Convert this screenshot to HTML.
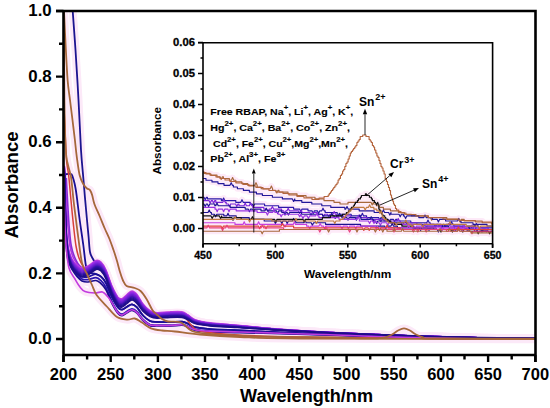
<!DOCTYPE html>
<html><head><meta charset="utf-8"><style>
html,body{margin:0;padding:0;background:#fff;width:550px;height:408px;overflow:hidden}
svg{display:block}
text{fill:#000}
</style></head><body>
<svg width="550" height="408" viewBox="0 0 550 408">
<rect width="550" height="408" fill="#fff"/>
<clipPath id="mc"><rect x="63.5" y="11" width="472" height="344"/></clipPath>
<g clip-path="url(#mc)"><path d="M64.5 168.0 C64.6 174.2 65.0 194.3 65.3 205.0 C65.6 215.7 65.8 224.5 66.3 232.0 C66.8 239.5 67.3 245.2 68.3 250.0 C69.2 254.8 70.5 258.2 72.0 261.0 C73.5 263.8 75.3 265.5 77.0 267.0 C78.7 268.5 80.2 269.8 82.0 270.0 C83.8 270.2 85.7 269.2 88.0 268.0 C90.3 266.8 93.8 263.2 96.0 262.5 C98.2 261.8 99.3 262.4 101.0 264.0 C102.7 265.6 104.2 268.0 106.0 272.0 C107.8 276.0 110.0 283.5 112.0 288.0 C114.0 292.5 116.3 296.9 118.0 299.0 C119.7 301.1 120.5 300.9 122.0 300.5 C123.5 300.1 125.3 297.8 127.0 296.5 C128.7 295.2 130.3 293.0 132.0 293.0 C133.7 293.0 135.2 294.4 137.0 296.5 C138.8 298.6 140.8 302.9 143.0 305.5 C145.2 308.1 147.7 310.6 150.0 312.0 C152.3 313.4 153.7 313.8 157.0 314.0 C160.3 314.2 165.8 313.2 170.0 313.0 C174.2 312.8 179.0 312.5 182.0 313.0 C185.0 313.5 185.8 314.8 188.0 316.0 C190.2 317.2 191.3 319.2 195.0 320.5 C198.7 321.8 202.5 322.6 210.0 323.5 C217.5 324.4 228.3 325.0 240.0 326.0 C251.7 327.0 265.0 328.4 280.0 329.5 C295.0 330.6 310.0 331.5 330.0 332.5 C350.0 333.5 376.7 334.7 400.0 335.5 C423.3 336.3 447.5 337.0 470.0 337.5 C492.5 338.0 524.2 338.2 535.0 338.3" fill="none" stroke="#fce9f8" stroke-width="8" stroke-linejoin="round" stroke-linecap="round"/><path d="M64.0 11.0 C64.3 16.7 65.0 33.5 65.6 45.0 C66.2 56.5 66.9 70.8 67.6 80.0 C68.3 89.2 69.2 93.3 70.0 100.0 C70.8 106.7 71.7 113.3 72.5 120.0 C73.3 126.7 74.2 133.8 74.9 140.0 C75.6 146.2 76.0 151.2 76.8 157.0 C77.6 162.8 78.5 170.4 79.6 175.0 C80.7 179.6 82.2 182.1 83.4 184.3 C84.6 186.6 85.9 187.5 87.0 188.5 C88.1 189.5 89.1 189.0 90.0 190.1 C90.9 191.2 91.5 193.0 92.2 195.3 C92.9 197.6 93.2 200.6 94.4 204.0 C95.6 207.4 97.8 211.8 99.6 216.0 C101.4 220.2 103.3 225.2 105.0 229.0 C106.7 232.8 108.1 235.5 109.5 239.0 C110.9 242.5 112.2 246.3 113.5 250.0 C114.8 253.7 115.9 257.3 117.0 261.0 C118.1 264.7 119.0 268.8 120.0 272.0 C121.0 275.2 121.9 278.2 123.0 280.5 C124.1 282.8 124.6 284.6 126.6 285.9 C128.5 287.1 132.4 287.1 134.7 288.0 C137.0 288.9 138.6 289.2 140.6 291.0 C142.6 292.8 144.5 295.8 146.5 299.0 C148.5 302.2 150.7 307.4 152.4 310.0 C154.1 312.6 155.2 313.0 156.8 314.5 C158.4 316.0 160.1 317.8 162.0 319.0 C163.9 320.2 164.8 320.9 168.0 321.5 C171.2 322.1 177.0 320.9 181.0 322.5 C185.0 324.1 187.2 329.1 192.0 331.0 C196.8 332.9 198.7 333.1 210.0 334.0 C221.3 334.9 240.0 335.9 260.0 336.5 C280.0 337.1 311.0 337.2 330.0 337.5 C349.0 337.8 364.8 338.4 374.0 338.4 C383.2 338.4 382.0 337.9 385.0 337.3 C388.0 336.7 389.8 335.6 392.0 334.5 C394.2 333.4 396.0 331.5 398.0 330.5 C400.0 329.5 402.0 328.4 404.0 328.4 C406.0 328.4 408.0 329.5 410.0 330.5 C412.0 331.5 413.8 333.4 416.0 334.5 C418.2 335.6 420.2 336.6 423.0 337.3 C425.8 338.0 414.3 338.3 433.0 338.5 C451.7 338.7 518.0 338.6 535.0 338.6" fill="none" stroke="#fce9f8" stroke-width="8" stroke-linejoin="round" stroke-linecap="round"/><path d="M72.7 11.0 C73.2 17.5 74.5 35.2 75.5 50.0 C76.5 64.8 77.6 83.3 78.5 100.0 C79.4 116.7 80.2 136.8 81.0 150.0 C81.8 163.2 82.8 171.2 83.4 179.0 C84.1 186.8 84.3 190.0 84.9 196.8 C85.5 203.6 86.4 213.3 87.0 220.0 C87.6 226.7 88.1 231.7 88.6 237.0 C89.1 242.3 89.3 248.3 90.0 252.0 C90.7 255.7 92.0 257.1 93.0 259.0 C94.0 260.9 94.7 262.5 96.0 263.5 C97.3 264.5 99.3 263.4 101.0 265.0 C102.7 266.6 104.2 269.0 106.0 273.0 C107.8 277.0 110.0 284.5 112.0 289.0 C114.0 293.5 116.3 297.9 118.0 299.9 C119.7 302.0 120.5 301.8 122.0 301.4 C123.5 301.0 125.3 298.7 127.0 297.5 C128.7 296.3 130.3 294.0 132.0 294.0 C133.7 294.0 135.2 295.4 137.0 297.5 C138.8 299.5 140.8 303.7 143.0 306.3 C145.2 308.8 147.7 311.2 150.0 312.6 C152.3 314.0 153.7 314.4 157.0 314.6 C160.3 314.7 165.8 313.7 170.0 313.6 C174.2 313.4 179.0 313.1 182.0 313.6 C185.0 314.1 185.8 315.3 188.0 316.5 C190.2 317.7 191.3 319.7 195.0 320.9 C198.7 322.1 202.5 322.9 210.0 323.8 C217.5 324.7 228.3 325.3 240.0 326.2 C251.7 327.2 265.0 328.6 280.0 329.7 C295.0 330.7 310.0 331.6 330.0 332.6 C350.0 333.6 376.7 334.7 400.0 335.5 C423.3 336.3 447.5 337.0 470.0 337.5 C492.5 338.0 524.2 338.2 535.0 338.3" fill="none" stroke="#fce9f8" stroke-width="8" stroke-linejoin="round" stroke-linecap="round"/><path d="M63.5 174.4 C64.2 174.3 66.7 174.0 68.0 174.0 C69.3 174.0 70.6 173.3 71.6 174.4 C72.6 175.5 73.1 178.3 73.8 180.6 C74.5 182.9 75.0 185.3 75.5 188.0 C76.0 190.7 76.1 191.5 76.8 196.8 C77.5 202.1 78.6 212.0 79.7 220.0 C80.8 228.0 82.3 237.5 83.3 245.0 C84.3 252.5 85.0 260.5 85.8 265.0 C86.6 269.5 86.3 270.5 88.0 272.0 C89.7 273.5 93.8 273.3 96.0 274.1 C98.2 274.9 99.3 275.2 101.0 276.7 C102.7 278.2 104.2 279.7 106.0 283.1 C107.8 286.6 110.0 293.2 112.0 297.2 C114.0 301.3 116.3 305.3 118.0 307.4 C119.7 309.5 120.5 309.8 122.0 309.7 C123.5 309.6 125.3 307.7 127.0 306.8 C128.7 305.9 130.3 304.2 132.0 304.3 C133.7 304.4 135.2 305.5 137.0 307.4 C138.8 309.3 140.8 313.3 143.0 315.5 C145.2 317.8 147.7 319.9 150.0 321.0 C152.3 322.1 153.7 321.8 157.0 322.0 C160.3 322.2 165.8 322.2 170.0 322.2 C174.2 322.1 179.0 321.3 182.0 321.6 C185.0 321.9 185.8 322.8 188.0 323.7 C190.2 324.7 191.3 326.3 195.0 327.2 C198.7 328.1 202.5 328.6 210.0 329.1 C217.5 329.6 228.3 329.9 240.0 330.4 C251.7 330.9 265.0 331.6 280.0 332.3 C295.0 333.0 310.0 333.5 330.0 334.3 C350.0 335.1 376.7 336.2 400.0 336.9 C423.3 337.5 447.5 338.1 470.0 338.4 C492.5 338.7 524.2 338.7 535.0 338.8" fill="none" stroke="#fce9f8" stroke-width="8" stroke-linejoin="round" stroke-linecap="round"/><path d="M63.5 95.0 C63.8 100.8 64.5 119.2 65.0 130.0 C65.5 140.8 65.9 152.5 66.5 160.0 C67.1 167.5 67.9 169.0 68.6 174.8 C69.3 180.6 69.9 188.5 70.5 195.0 C71.1 201.5 71.7 208.2 72.3 214.0 C72.9 219.8 73.4 224.7 74.0 230.0 C74.6 235.3 75.2 241.3 76.0 246.0 C76.8 250.7 77.8 254.7 79.0 258.0 C80.2 261.3 81.5 263.8 83.0 266.0 C84.5 268.2 85.8 271.1 88.0 271.0 C90.2 270.9 93.8 266.2 96.0 265.5 C98.2 264.8 99.3 265.4 101.0 267.0 C102.7 268.6 104.2 271.0 106.0 275.0 C107.8 279.0 110.0 286.5 112.0 291.0 C114.0 295.5 116.3 299.7 118.0 301.8 C119.7 303.8 120.5 303.5 122.0 303.2 C123.5 302.8 125.3 300.7 127.0 299.5 C128.7 298.3 130.3 296.0 132.0 296.0 C133.7 296.0 135.2 297.5 137.0 299.5 C138.8 301.4 140.8 305.4 143.0 307.8 C145.2 310.2 147.7 312.5 150.0 313.8 C152.3 315.1 153.7 315.5 157.0 315.6 C160.3 315.8 165.8 314.9 170.0 314.7 C174.2 314.6 178.3 312.8 182.0 314.7 C185.7 316.6 189.0 323.3 192.0 326.0 C195.0 328.7 193.7 329.6 200.0 331.0 C206.3 332.4 213.3 333.5 230.0 334.5 C246.7 335.5 271.7 336.4 300.0 337.0 C328.3 337.6 360.8 338.0 400.0 338.3 C439.2 338.6 512.5 338.7 535.0 338.8" fill="none" stroke="#fce9f8" stroke-width="8" stroke-linejoin="round" stroke-linecap="round"/><path d="M63.5 165.0 C63.7 172.5 64.1 196.7 64.5 210.0 C64.9 223.3 65.2 235.3 66.0 245.0 C66.8 254.7 67.5 262.3 69.0 268.0 C70.5 273.7 73.2 275.8 75.0 279.0 C76.8 282.2 78.3 284.9 80.0 287.0 C81.7 289.1 82.5 290.5 85.0 291.5 C87.5 292.5 92.1 292.9 95.0 293.0 C97.9 293.1 100.3 291.3 102.5 292.0 C104.7 292.7 106.4 295.2 108.0 297.0 C109.6 298.8 110.3 300.3 112.0 302.9 C113.7 305.5 116.3 310.8 118.0 312.8 C119.7 314.8 120.5 315.2 122.0 315.1 C123.5 314.9 125.3 313.1 127.0 312.2 C128.7 311.3 130.3 309.7 132.0 309.8 C133.7 309.9 135.2 310.9 137.0 312.6 C138.8 314.3 140.8 318.0 143.0 320.0 C145.2 322.1 147.7 324.0 150.0 324.9 C152.3 325.8 153.7 325.3 157.0 325.4 C160.3 325.5 165.8 325.7 170.0 325.6 C174.2 325.5 179.0 324.6 182.0 324.8 C185.0 324.9 185.8 325.8 188.0 326.6 C190.2 327.4 191.3 328.9 195.0 329.7 C198.7 330.4 202.5 330.8 210.0 331.1 C217.5 331.5 228.3 331.6 240.0 332.0 C251.7 332.3 265.0 332.7 280.0 333.2 C295.0 333.7 310.0 334.1 330.0 334.8 C350.0 335.5 376.7 336.6 400.0 337.2 C423.3 337.9 447.5 338.4 470.0 338.7 C492.5 339.0 524.2 338.9 535.0 339.0" fill="none" stroke="#fce9f8" stroke-width="8" stroke-linejoin="round" stroke-linecap="round"/><path d="M63.8 11.0 C63.9 25.8 64.1 76.8 64.4 100.0 C64.7 123.2 65.2 139.2 65.8 150.0 C66.4 160.8 67.1 160.5 68.0 165.0 C68.9 169.5 70.1 171.2 71.0 177.0 C71.9 182.8 72.7 192.8 73.5 200.0 C74.3 207.2 75.2 213.6 76.0 220.0 C76.8 226.4 77.4 231.3 78.4 238.5 C79.4 245.7 80.6 257.1 82.0 263.0 C83.4 268.9 85.3 270.3 87.0 274.0 C88.7 277.7 90.4 281.5 92.0 285.0 C93.6 288.5 94.1 291.4 96.6 295.0 C99.1 298.6 103.4 302.8 106.8 306.5 C110.2 310.2 113.6 314.8 117.0 317.0 C120.4 319.2 124.5 319.4 127.4 319.7 C130.3 319.9 132.3 318.0 134.7 318.5 C137.1 319.0 139.3 321.0 142.0 322.6 C144.7 324.2 147.6 327.0 150.9 328.3 C154.2 329.6 158.0 330.0 162.0 330.5 C166.0 331.0 168.7 330.8 175.0 331.5 C181.3 332.2 189.2 333.6 200.0 334.5 C210.8 335.4 223.3 336.3 240.0 337.0 C256.7 337.7 250.8 338.1 300.0 338.5 C349.2 338.9 495.8 339.1 535.0 339.2" fill="none" stroke="#fce9f8" stroke-width="8" stroke-linejoin="round" stroke-linecap="round"/><path d="M65.3 175.0 C65.5 179.2 65.9 191.7 66.3 200.0 C66.7 208.3 67.2 217.5 67.8 225.0 C68.4 232.5 68.9 239.7 69.8 245.0 C70.7 250.3 71.6 253.7 73.0 257.0 C74.4 260.3 76.5 262.8 78.0 265.0 C79.5 267.2 80.3 269.5 82.0 270.0 C83.7 270.5 85.7 269.2 88.0 268.0 C90.3 266.8 93.8 263.2 96.0 262.5 C98.2 261.8 99.3 262.4 101.0 264.0 C102.7 265.6 104.2 268.0 106.0 272.0 C107.8 276.0 110.0 283.5 112.0 288.0 C114.0 292.5 116.3 296.9 118.0 299.0 C119.7 301.1 120.5 300.9 122.0 300.5 C123.5 300.1 125.3 297.8 127.0 296.5 C128.7 295.2 130.3 293.0 132.0 293.0 C133.7 293.0 135.2 294.4 137.0 296.5 C138.8 298.6 140.8 302.9 143.0 305.5 C145.2 308.1 147.7 310.6 150.0 312.0 C152.3 313.4 153.7 313.8 157.0 314.0 C160.3 314.2 165.8 313.2 170.0 313.0 C174.2 312.8 179.0 312.5 182.0 313.0 C185.0 313.5 185.8 314.8 188.0 316.0 C190.2 317.2 191.3 319.2 195.0 320.5 C198.7 321.8 202.5 322.6 210.0 323.5 C217.5 324.4 228.3 325.0 240.0 326.0 C251.7 327.0 265.0 328.4 280.0 329.5 C295.0 330.6 310.0 331.5 330.0 332.5 C350.0 333.5 376.7 334.7 400.0 335.5 C423.3 336.3 447.5 337.0 470.0 337.5 C492.5 338.0 524.2 338.2 535.0 338.3" fill="none" stroke="#fce9f8" stroke-width="8" stroke-linejoin="round" stroke-linecap="round"/><path d="M66.3 178.0 C66.5 182.5 67.3 196.7 67.8 205.0 C68.3 213.3 68.7 221.2 69.3 228.0 C69.9 234.8 70.3 241.0 71.3 246.0 C72.2 251.0 73.5 254.7 75.0 258.0 C76.5 261.3 77.8 264.0 80.0 266.0 C82.2 268.0 85.3 270.2 88.0 270.0 C90.7 269.8 93.8 265.2 96.0 264.5 C98.2 263.8 99.3 264.4 101.0 266.0 C102.7 267.6 104.2 270.0 106.0 274.0 C107.8 278.0 110.0 285.5 112.0 290.0 C114.0 294.5 116.3 298.8 118.0 300.9 C119.7 302.9 120.5 302.7 122.0 302.3 C123.5 301.9 125.3 299.7 127.0 298.5 C128.7 297.3 130.3 295.0 132.0 295.0 C133.7 295.0 135.2 296.5 137.0 298.5 C138.8 300.5 140.8 304.6 143.0 307.0 C145.2 309.5 147.7 311.9 150.0 313.2 C152.3 314.5 153.7 314.9 157.0 315.1 C160.3 315.3 165.8 314.3 170.0 314.1 C174.2 314.0 179.0 313.7 182.0 314.1 C185.0 314.6 185.8 315.8 188.0 317.0 C190.2 318.2 191.3 320.1 195.0 321.3 C198.7 322.5 202.5 323.3 210.0 324.1 C217.5 325.0 228.3 325.6 240.0 326.5 C251.7 327.4 265.0 328.8 280.0 329.8 C295.0 330.9 310.0 331.7 330.0 332.7 C350.0 333.6 376.7 334.7 400.0 335.5 C423.3 336.3 447.5 337.0 470.0 337.5 C492.5 338.0 524.2 338.2 535.0 338.3" fill="none" stroke="#fce9f8" stroke-width="8" stroke-linejoin="round" stroke-linecap="round"/><path d="M64.5 178.8 C64.6 184.8 65.0 204.5 65.3 214.8 C65.6 225.1 65.8 233.7 66.3 240.6 C66.8 247.4 67.3 252.0 68.3 256.1 C69.2 260.2 70.5 262.7 72.0 265.4 C73.5 268.1 75.3 270.5 77.0 272.4 C78.7 274.3 80.2 276.0 82.0 276.7 C83.8 277.4 85.7 277.2 88.0 276.8 C90.3 276.4 93.8 274.1 96.0 274.1 C98.2 274.1 99.3 275.2 101.0 276.7 C102.7 278.2 104.2 279.7 106.0 283.1 C107.8 286.6 110.0 293.2 112.0 297.2 C114.0 301.3 116.3 305.3 118.0 307.4 C119.7 309.5 120.5 309.8 122.0 309.7 C123.5 309.6 125.3 307.7 127.0 306.8 C128.7 305.9 130.3 304.2 132.0 304.3 C133.7 304.4 135.2 305.5 137.0 307.4 C138.8 309.3 140.8 313.3 143.0 315.5 C145.2 317.8 147.7 319.9 150.0 321.0 C152.3 322.1 153.7 321.8 157.0 322.0 C160.3 322.2 165.8 322.2 170.0 322.2 C174.2 322.1 179.0 321.3 182.0 321.6 C185.0 321.9 185.8 322.8 188.0 323.7 C190.2 324.7 191.3 326.3 195.0 327.2 C198.7 328.1 202.5 328.6 210.0 329.1 C217.5 329.6 228.3 329.9 240.0 330.4 C251.7 330.9 265.0 331.6 280.0 332.3 C295.0 333.0 310.0 333.5 330.0 334.3 C350.0 335.1 376.7 336.2 400.0 336.9 C423.3 337.5 447.5 338.1 470.0 338.4 C492.5 338.7 524.2 338.7 535.0 338.8" fill="none" stroke="#fce9f8" stroke-width="8" stroke-linejoin="round" stroke-linecap="round"/><path d="M64.5 182.5 C64.6 188.4 65.0 208.0 65.3 218.2 C65.6 228.4 65.8 237.0 66.3 243.7 C66.8 250.4 67.3 254.7 68.3 258.6 C69.2 262.6 70.5 264.8 72.0 267.4 C73.5 270.0 75.3 272.5 77.0 274.4 C78.7 276.3 80.2 278.0 82.0 278.9 C83.8 279.8 85.7 279.8 88.0 279.6 C90.3 279.4 93.8 277.5 96.0 277.7 C98.2 277.9 99.3 279.1 101.0 280.7 C102.7 282.3 104.2 283.8 106.0 287.3 C107.8 290.8 110.0 297.5 112.0 301.6 C114.0 305.7 116.3 309.8 118.0 311.9 C119.7 314.0 120.5 314.3 122.0 314.2 C123.5 314.1 125.3 312.2 127.0 311.3 C128.7 310.4 130.3 308.7 132.0 308.8 C133.7 308.9 135.2 309.9 137.0 311.7 C138.8 313.4 140.8 317.3 143.0 319.4 C145.2 321.5 147.7 323.5 150.0 324.5 C152.3 325.4 153.7 324.9 157.0 325.0 C160.3 325.1 165.8 325.3 170.0 325.2 C174.2 325.0 179.0 324.1 182.0 324.3 C185.0 324.5 185.8 325.4 188.0 326.2 C190.2 327.1 191.3 328.6 195.0 329.4 C198.7 330.2 202.5 330.6 210.0 330.9 C217.5 331.3 228.3 331.4 240.0 331.8 C251.7 332.2 265.0 332.6 280.0 333.1 C295.0 333.6 310.0 334.1 330.0 334.8 C350.0 335.5 376.7 336.6 400.0 337.2 C423.3 337.9 447.5 338.4 470.0 338.7 C492.5 339.0 524.2 338.9 535.0 339.0" fill="none" stroke="#fce9f8" stroke-width="8" stroke-linejoin="round" stroke-linecap="round"/><path d="M64.5 186.2 C64.6 192.1 65.0 211.6 65.3 221.7 C65.6 231.8 65.8 240.3 66.3 246.8 C66.8 253.4 67.3 257.4 68.3 261.1 C69.2 264.9 70.5 266.9 72.0 269.4 C73.5 271.9 75.3 274.5 77.0 276.4 C78.7 278.3 80.2 280.1 82.0 281.0 C83.8 281.9 85.7 282.1 88.0 282.0 C90.3 281.9 93.8 280.2 96.0 280.5 C98.2 280.8 99.3 282.1 101.0 283.6 C102.7 285.2 104.2 286.4 106.0 289.8 C107.8 293.1 110.0 299.6 112.0 303.5 C114.0 307.4 116.3 311.4 118.0 313.4 C119.7 315.5 120.5 315.8 122.0 315.7 C123.5 315.6 125.3 313.7 127.0 312.8 C128.7 311.9 130.3 310.2 132.0 310.3 C133.7 310.3 135.2 311.3 137.0 313.1 C138.8 314.8 140.8 318.6 143.0 320.7 C145.2 322.8 147.7 324.7 150.0 325.6 C152.3 326.5 153.7 325.9 157.0 326.0 C160.3 326.1 165.8 326.2 170.0 326.1 C174.2 326.0 179.0 325.1 182.0 325.2 C185.0 325.4 185.8 326.3 188.0 327.2 C190.2 328.0 191.3 329.6 195.0 330.4 C198.7 331.2 202.5 331.5 210.0 331.9 C217.5 332.3 228.3 332.3 240.0 332.6 C251.7 332.9 265.0 333.3 280.0 333.7 C295.0 334.1 310.0 334.6 330.0 335.2 C350.0 335.9 376.7 336.9 400.0 337.6 C423.3 338.2 447.5 338.7 470.0 338.9 C492.5 339.2 524.2 339.1 535.0 339.1" fill="none" stroke="#fce9f8" stroke-width="8" stroke-linejoin="round" stroke-linecap="round"/><path d="M64.5 178.8 C64.6 184.8 65.0 204.5 65.3 214.8 C65.6 225.1 65.8 233.7 66.3 240.6 C66.8 247.4 67.3 252.0 68.3 256.1 C69.2 260.2 70.5 262.7 72.0 265.4 C73.5 268.1 75.3 270.5 77.0 272.4 C78.7 274.3 80.2 276.0 82.0 276.7 C83.8 277.4 85.7 277.2 88.0 276.8 C90.3 276.4 93.8 274.1 96.0 274.1 C98.2 274.1 99.3 275.2 101.0 276.7 C102.7 278.2 104.2 279.7 106.0 283.1 C107.8 286.6 110.0 293.2 112.0 297.2 C114.0 301.3 116.3 305.3 118.0 307.4 C119.7 309.5 120.5 309.8 122.0 309.7 C123.5 309.6 125.3 307.7 127.0 306.8 C128.7 305.9 130.3 304.2 132.0 304.3 C133.7 304.4 135.2 305.5 137.0 307.4 C138.8 309.3 140.8 313.3 143.0 315.5 C145.2 317.8 147.7 319.9 150.0 321.0 C152.3 322.1 153.7 321.8 157.0 322.0 C160.3 322.2 165.8 322.2 170.0 322.2 C174.2 322.1 179.0 321.3 182.0 321.6 C185.0 321.9 185.8 322.8 188.0 323.7 C190.2 324.7 191.3 326.3 195.0 327.2 C198.7 328.1 202.5 328.6 210.0 329.1 C217.5 329.6 228.3 329.9 240.0 330.4 C251.7 330.9 265.0 331.6 280.0 332.3 C295.0 333.0 310.0 333.5 330.0 334.3 C350.0 335.1 376.7 336.2 400.0 336.9 C423.3 337.5 447.5 338.1 470.0 338.4 C492.5 338.7 524.2 338.7 535.0 338.8" fill="none" stroke="#1f0f9e" stroke-width="1.70" stroke-opacity="1.00" stroke-linejoin="round"/><path d="M64.5 182.5 C64.6 188.4 65.0 208.0 65.3 218.2 C65.6 228.4 65.8 237.0 66.3 243.7 C66.8 250.4 67.3 254.7 68.3 258.6 C69.2 262.6 70.5 264.8 72.0 267.4 C73.5 270.0 75.3 272.5 77.0 274.4 C78.7 276.3 80.2 278.0 82.0 278.9 C83.8 279.8 85.7 279.8 88.0 279.6 C90.3 279.4 93.8 277.5 96.0 277.7 C98.2 277.9 99.3 279.1 101.0 280.7 C102.7 282.3 104.2 283.8 106.0 287.3 C107.8 290.8 110.0 297.5 112.0 301.6 C114.0 305.7 116.3 309.8 118.0 311.9 C119.7 314.0 120.5 314.3 122.0 314.2 C123.5 314.1 125.3 312.2 127.0 311.3 C128.7 310.4 130.3 308.7 132.0 308.8 C133.7 308.9 135.2 309.9 137.0 311.7 C138.8 313.4 140.8 317.3 143.0 319.4 C145.2 321.5 147.7 323.5 150.0 324.5 C152.3 325.4 153.7 324.9 157.0 325.0 C160.3 325.1 165.8 325.3 170.0 325.2 C174.2 325.0 179.0 324.1 182.0 324.3 C185.0 324.5 185.8 325.4 188.0 326.2 C190.2 327.1 191.3 328.6 195.0 329.4 C198.7 330.2 202.5 330.6 210.0 330.9 C217.5 331.3 228.3 331.4 240.0 331.8 C251.7 332.2 265.0 332.6 280.0 333.1 C295.0 333.6 310.0 334.1 330.0 334.8 C350.0 335.5 376.7 336.6 400.0 337.2 C423.3 337.9 447.5 338.4 470.0 338.7 C492.5 339.0 524.2 338.9 535.0 339.0" fill="none" stroke="#2a14b0" stroke-width="1.70" stroke-opacity="1.00" stroke-linejoin="round"/><path d="M64.5 186.2 C64.6 192.1 65.0 211.6 65.3 221.7 C65.6 231.8 65.8 240.3 66.3 246.8 C66.8 253.4 67.3 257.4 68.3 261.1 C69.2 264.9 70.5 266.9 72.0 269.4 C73.5 271.9 75.3 274.5 77.0 276.4 C78.7 278.3 80.2 280.1 82.0 281.0 C83.8 281.9 85.7 282.1 88.0 282.0 C90.3 281.9 93.8 280.2 96.0 280.5 C98.2 280.8 99.3 282.1 101.0 283.6 C102.7 285.2 104.2 286.4 106.0 289.8 C107.8 293.1 110.0 299.6 112.0 303.5 C114.0 307.4 116.3 311.4 118.0 313.4 C119.7 315.5 120.5 315.8 122.0 315.7 C123.5 315.6 125.3 313.7 127.0 312.8 C128.7 311.9 130.3 310.2 132.0 310.3 C133.7 310.3 135.2 311.3 137.0 313.1 C138.8 314.8 140.8 318.6 143.0 320.7 C145.2 322.8 147.7 324.7 150.0 325.6 C152.3 326.5 153.7 325.9 157.0 326.0 C160.3 326.1 165.8 326.2 170.0 326.1 C174.2 326.0 179.0 325.1 182.0 325.2 C185.0 325.4 185.8 326.3 188.0 327.2 C190.2 328.0 191.3 329.6 195.0 330.4 C198.7 331.2 202.5 331.5 210.0 331.9 C217.5 332.3 228.3 332.3 240.0 332.6 C251.7 332.9 265.0 333.3 280.0 333.7 C295.0 334.1 310.0 334.6 330.0 335.2 C350.0 335.9 376.7 336.9 400.0 337.6 C423.3 338.2 447.5 338.7 470.0 338.9 C492.5 339.2 524.2 339.1 535.0 339.1" fill="none" stroke="#1a0c8c" stroke-width="1.70" stroke-opacity="1.00" stroke-linejoin="round"/><path d="M63.5 174.4 C64.2 174.3 66.7 174.0 68.0 174.0 C69.3 174.0 70.6 173.3 71.6 174.4 C72.6 175.5 73.1 178.3 73.8 180.6 C74.5 182.9 75.0 185.3 75.5 188.0 C76.0 190.7 76.1 191.5 76.8 196.8 C77.5 202.1 78.6 212.0 79.7 220.0 C80.8 228.0 82.3 237.5 83.3 245.0 C84.3 252.5 85.0 260.5 85.8 265.0 C86.6 269.5 86.3 270.5 88.0 272.0 C89.7 273.5 93.8 273.3 96.0 274.1 C98.2 274.9 99.3 275.2 101.0 276.7 C102.7 278.2 104.2 279.7 106.0 283.1 C107.8 286.6 110.0 293.2 112.0 297.2 C114.0 301.3 116.3 305.3 118.0 307.4 C119.7 309.5 120.5 309.8 122.0 309.7 C123.5 309.6 125.3 307.7 127.0 306.8 C128.7 305.9 130.3 304.2 132.0 304.3 C133.7 304.4 135.2 305.5 137.0 307.4 C138.8 309.3 140.8 313.3 143.0 315.5 C145.2 317.8 147.7 319.9 150.0 321.0 C152.3 322.1 153.7 321.8 157.0 322.0 C160.3 322.2 165.8 322.2 170.0 322.2 C174.2 322.1 179.0 321.3 182.0 321.6 C185.0 321.9 185.8 322.8 188.0 323.7 C190.2 324.7 191.3 326.3 195.0 327.2 C198.7 328.1 202.5 328.6 210.0 329.1 C217.5 329.6 228.3 329.9 240.0 330.4 C251.7 330.9 265.0 331.6 280.0 332.3 C295.0 333.0 310.0 333.5 330.0 334.3 C350.0 335.1 376.7 336.2 400.0 336.9 C423.3 337.5 447.5 338.1 470.0 338.4 C492.5 338.7 524.2 338.7 535.0 338.8" fill="none" stroke="#1a0f95" stroke-width="1.80" stroke-opacity="1.00" stroke-linejoin="round"/><path d="M72.7 11.0 C73.2 17.5 74.5 35.2 75.5 50.0 C76.5 64.8 77.6 83.3 78.5 100.0 C79.4 116.7 80.2 136.8 81.0 150.0 C81.8 163.2 82.8 171.2 83.4 179.0 C84.1 186.8 84.3 190.0 84.9 196.8 C85.5 203.6 86.4 213.3 87.0 220.0 C87.6 226.7 88.1 231.7 88.6 237.0 C89.1 242.3 89.3 248.3 90.0 252.0 C90.7 255.7 92.0 257.1 93.0 259.0 C94.0 260.9 94.7 262.5 96.0 263.5 C97.3 264.5 99.3 263.4 101.0 265.0 C102.7 266.6 104.2 269.0 106.0 273.0 C107.8 277.0 110.0 284.5 112.0 289.0 C114.0 293.5 116.3 297.9 118.0 299.9 C119.7 302.0 120.5 301.8 122.0 301.4 C123.5 301.0 125.3 298.7 127.0 297.5 C128.7 296.3 130.3 294.0 132.0 294.0 C133.7 294.0 135.2 295.4 137.0 297.5 C138.8 299.5 140.8 303.7 143.0 306.3 C145.2 308.8 147.7 311.2 150.0 312.6 C152.3 314.0 153.7 314.4 157.0 314.6 C160.3 314.7 165.8 313.7 170.0 313.6 C174.2 313.4 179.0 313.1 182.0 313.6 C185.0 314.1 185.8 315.3 188.0 316.5 C190.2 317.7 191.3 319.7 195.0 320.9 C198.7 322.1 202.5 322.9 210.0 323.8 C217.5 324.7 228.3 325.3 240.0 326.2 C251.7 327.2 265.0 328.6 280.0 329.7 C295.0 330.7 310.0 331.6 330.0 332.6 C350.0 333.6 376.7 334.7 400.0 335.5 C423.3 336.3 447.5 337.0 470.0 337.5 C492.5 338.0 524.2 338.2 535.0 338.3" fill="none" stroke="#1c1490" stroke-width="1.80" stroke-opacity="1.00" stroke-linejoin="round"/><path d="M63.5 95.0 C63.8 100.8 64.5 119.2 65.0 130.0 C65.5 140.8 65.9 152.5 66.5 160.0 C67.1 167.5 67.9 169.0 68.6 174.8 C69.3 180.6 69.9 188.5 70.5 195.0 C71.1 201.5 71.7 208.2 72.3 214.0 C72.9 219.8 73.4 224.7 74.0 230.0 C74.6 235.3 75.2 241.3 76.0 246.0 C76.8 250.7 77.8 254.7 79.0 258.0 C80.2 261.3 81.5 263.8 83.0 266.0 C84.5 268.2 85.8 271.1 88.0 271.0 C90.2 270.9 93.8 266.2 96.0 265.5 C98.2 264.8 99.3 265.4 101.0 267.0 C102.7 268.6 104.2 271.0 106.0 275.0 C107.8 279.0 110.0 286.5 112.0 291.0 C114.0 295.5 116.3 299.7 118.0 301.8 C119.7 303.8 120.5 303.5 122.0 303.2 C123.5 302.8 125.3 300.7 127.0 299.5 C128.7 298.3 130.3 296.0 132.0 296.0 C133.7 296.0 135.2 297.5 137.0 299.5 C138.8 301.4 140.8 305.4 143.0 307.8 C145.2 310.2 147.7 312.5 150.0 313.8 C152.3 315.1 153.7 315.5 157.0 315.6 C160.3 315.8 165.8 314.9 170.0 314.7 C174.2 314.6 178.3 312.8 182.0 314.7 C185.7 316.6 189.0 323.3 192.0 326.0 C195.0 328.7 193.7 329.6 200.0 331.0 C206.3 332.4 213.3 333.5 230.0 334.5 C246.7 335.5 271.7 336.4 300.0 337.0 C328.3 337.6 360.8 338.0 400.0 338.3 C439.2 338.6 512.5 338.7 535.0 338.8" fill="none" stroke="#d8403a" stroke-width="1.50" stroke-opacity="1.00" stroke-linejoin="round"/><path d="M65.3 175.0 C65.5 179.2 65.9 191.7 66.3 200.0 C66.7 208.3 67.2 217.5 67.8 225.0 C68.4 232.5 68.9 239.7 69.8 245.0 C70.7 250.3 71.6 253.7 73.0 257.0 C74.4 260.3 76.5 262.8 78.0 265.0 C79.5 267.2 80.3 269.5 82.0 270.0 C83.7 270.5 85.7 269.2 88.0 268.0 C90.3 266.8 93.8 263.2 96.0 262.5 C98.2 261.8 99.3 262.4 101.0 264.0 C102.7 265.6 104.2 268.0 106.0 272.0 C107.8 276.0 110.0 283.5 112.0 288.0 C114.0 292.5 116.3 296.9 118.0 299.0 C119.7 301.1 120.5 300.9 122.0 300.5 C123.5 300.1 125.3 297.8 127.0 296.5 C128.7 295.2 130.3 293.0 132.0 293.0 C133.7 293.0 135.2 294.4 137.0 296.5 C138.8 298.6 140.8 302.9 143.0 305.5 C145.2 308.1 147.7 310.6 150.0 312.0 C152.3 313.4 153.7 313.8 157.0 314.0 C160.3 314.2 165.8 313.2 170.0 313.0 C174.2 312.8 179.0 312.5 182.0 313.0 C185.0 313.5 185.8 314.8 188.0 316.0 C190.2 317.2 191.3 319.2 195.0 320.5 C198.7 321.8 202.5 322.6 210.0 323.5 C217.5 324.4 228.3 325.0 240.0 326.0 C251.7 327.0 265.0 328.4 280.0 329.5 C295.0 330.6 310.0 331.5 330.0 332.5 C350.0 333.5 376.7 334.7 400.0 335.5 C423.3 336.3 447.5 337.0 470.0 337.5 C492.5 338.0 524.2 338.2 535.0 338.3" fill="none" stroke="#b03ae0" stroke-width="1.60" stroke-opacity="1.00" stroke-linejoin="round"/><path d="M66.3 178.0 C66.5 182.5 67.3 196.7 67.8 205.0 C68.3 213.3 68.7 221.2 69.3 228.0 C69.9 234.8 70.3 241.0 71.3 246.0 C72.2 251.0 73.5 254.7 75.0 258.0 C76.5 261.3 77.8 264.0 80.0 266.0 C82.2 268.0 85.3 270.2 88.0 270.0 C90.7 269.8 93.8 265.2 96.0 264.5 C98.2 263.8 99.3 264.4 101.0 266.0 C102.7 267.6 104.2 270.0 106.0 274.0 C107.8 278.0 110.0 285.5 112.0 290.0 C114.0 294.5 116.3 298.8 118.0 300.9 C119.7 302.9 120.5 302.7 122.0 302.3 C123.5 301.9 125.3 299.7 127.0 298.5 C128.7 297.3 130.3 295.0 132.0 295.0 C133.7 295.0 135.2 296.5 137.0 298.5 C138.8 300.5 140.8 304.6 143.0 307.0 C145.2 309.5 147.7 311.9 150.0 313.2 C152.3 314.5 153.7 314.9 157.0 315.1 C160.3 315.3 165.8 314.3 170.0 314.1 C174.2 314.0 179.0 313.7 182.0 314.1 C185.0 314.6 185.8 315.8 188.0 317.0 C190.2 318.2 191.3 320.1 195.0 321.3 C198.7 322.5 202.5 323.3 210.0 324.1 C217.5 325.0 228.3 325.6 240.0 326.5 C251.7 327.4 265.0 328.8 280.0 329.8 C295.0 330.9 310.0 331.7 330.0 332.7 C350.0 333.6 376.7 334.7 400.0 335.5 C423.3 336.3 447.5 337.0 470.0 337.5 C492.5 338.0 524.2 338.2 535.0 338.3" fill="none" stroke="#8a2ad8" stroke-width="1.60" stroke-opacity="1.00" stroke-linejoin="round"/><path d="M64.3 172.0 C64.4 176.7 64.7 191.2 64.9 200.0 C65.1 208.8 65.3 217.5 65.6 225.0 C65.9 232.5 66.1 239.5 66.8 245.0 C67.5 250.5 68.3 254.5 69.5 258.0 C70.7 261.5 71.9 264.2 74.0 266.0 C76.1 267.8 79.7 268.8 82.0 269.0 C84.3 269.2 85.7 268.2 88.0 267.0 C90.3 265.8 93.8 262.2 96.0 261.5 C98.2 260.8 99.3 261.4 101.0 263.0 C102.7 264.6 104.2 267.0 106.0 271.0 C107.8 275.0 110.0 282.5 112.0 287.0 C114.0 291.5 116.3 296.0 118.0 298.1 C119.7 300.2 120.5 300.0 122.0 299.6 C123.5 299.2 125.3 296.8 127.0 295.5 C128.7 294.2 130.3 292.0 132.0 292.0 C133.7 292.0 135.2 293.4 137.0 295.5 C138.8 297.6 140.8 302.1 143.0 304.7 C145.2 307.4 147.7 309.9 150.0 311.4 C152.3 312.9 153.7 313.3 157.0 313.4 C160.3 313.6 165.8 312.6 170.0 312.4 C174.2 312.3 179.0 311.9 182.0 312.4 C185.0 312.9 185.8 314.2 188.0 315.5 C190.2 316.8 191.3 318.8 195.0 320.1 C198.7 321.4 202.5 322.2 210.0 323.2 C217.5 324.1 228.3 324.7 240.0 325.8 C251.7 326.8 265.0 328.2 280.0 329.3 C295.0 330.4 310.0 331.4 330.0 332.4 C350.0 333.4 376.7 334.6 400.0 335.5 C423.3 336.3 447.5 337.0 470.0 337.5 C492.5 338.0 524.2 338.2 535.0 338.3" fill="none" stroke="#c846e6" stroke-width="1.60" stroke-opacity="1.00" stroke-linejoin="round"/><path d="M64.5 166.0 C64.6 172.2 65.0 192.3 65.3 203.0 C65.6 213.7 65.8 222.5 66.3 230.0 C66.8 237.5 67.3 243.2 68.3 248.0 C69.2 252.8 70.5 256.2 72.0 259.0 C73.5 261.8 75.3 263.5 77.0 265.0 C78.7 266.5 80.2 267.8 82.0 268.0 C83.8 268.2 85.7 267.2 88.0 266.0 C90.3 264.8 93.8 261.2 96.0 260.5 C98.2 259.8 99.3 260.4 101.0 262.0 C102.7 263.6 104.2 266.0 106.0 270.0 C107.8 274.0 110.0 281.5 112.0 286.0 C114.0 290.5 116.3 294.9 118.0 297.1 C119.7 299.2 120.5 299.1 122.0 298.6 C123.5 298.2 125.3 295.8 127.0 294.5 C128.7 293.2 130.3 291.0 132.0 291.0 C133.7 291.0 135.2 292.4 137.0 294.5 C138.8 296.6 140.8 301.2 143.0 303.9 C145.2 306.6 147.7 309.2 150.0 310.7 C152.3 312.2 153.7 312.6 157.0 312.8 C160.3 313.0 165.8 311.9 170.0 311.8 C174.2 311.6 179.0 311.2 182.0 311.8 C185.0 312.3 185.8 313.6 188.0 314.9 C190.2 316.2 191.3 318.3 195.0 319.6 C198.7 320.9 202.5 321.8 210.0 322.8 C217.5 323.8 228.3 324.5 240.0 325.5 C251.7 326.6 265.0 328.1 280.0 329.3 C295.0 330.4 310.0 331.4 330.0 332.4 C350.0 333.4 376.7 334.6 400.0 335.5 C423.3 336.3 447.5 337.0 470.0 337.5 C492.5 338.0 524.2 338.2 535.0 338.3" fill="none" stroke="#c43fe0" stroke-width="1.50" stroke-opacity="1.00" stroke-linejoin="round"/><path d="M64.5 167.0 C64.6 173.2 65.0 193.3 65.3 204.0 C65.6 214.7 65.8 223.5 66.3 231.0 C66.8 238.5 67.3 244.2 68.3 249.0 C69.2 253.8 70.5 257.2 72.0 260.0 C73.5 262.8 75.3 264.5 77.0 266.0 C78.7 267.5 80.2 268.8 82.0 269.0 C83.8 269.2 85.7 268.2 88.0 267.0 C90.3 265.8 93.8 262.2 96.0 261.5 C98.2 260.8 99.3 261.4 101.0 263.0 C102.7 264.6 104.2 267.0 106.0 271.0 C107.8 275.0 110.0 282.5 112.0 287.0 C114.0 291.5 116.3 295.9 118.0 298.0 C119.7 300.1 120.5 300.0 122.0 299.6 C123.5 299.1 125.3 296.8 127.0 295.5 C128.7 294.2 130.3 292.0 132.0 292.0 C133.7 292.0 135.2 293.4 137.0 295.5 C138.8 297.6 140.8 302.0 143.0 304.7 C145.2 307.3 147.7 309.9 150.0 311.4 C152.3 312.8 153.7 313.2 157.0 313.4 C160.3 313.6 165.8 312.5 170.0 312.4 C174.2 312.2 179.0 311.9 182.0 312.4 C185.0 312.9 185.8 314.2 188.0 315.4 C190.2 316.7 191.3 318.8 195.0 320.1 C198.7 321.3 202.5 322.2 210.0 323.2 C217.5 324.1 228.3 324.7 240.0 325.8 C251.7 326.8 265.0 328.3 280.0 329.4 C295.0 330.5 310.0 331.4 330.0 332.4 C350.0 333.5 376.7 334.6 400.0 335.5 C423.3 336.3 447.5 337.0 470.0 337.5 C492.5 338.0 524.2 338.2 535.0 338.3" fill="none" stroke="#9b30e6" stroke-width="1.50" stroke-opacity="1.00" stroke-linejoin="round"/><path d="M64.5 168.0 C64.6 174.2 65.0 194.3 65.3 205.0 C65.6 215.7 65.8 224.5 66.3 232.0 C66.8 239.5 67.3 245.2 68.3 250.0 C69.2 254.8 70.5 258.2 72.0 261.0 C73.5 263.8 75.3 265.5 77.0 267.0 C78.7 268.5 80.2 269.8 82.0 270.0 C83.8 270.2 85.7 269.2 88.0 268.0 C90.3 266.8 93.8 263.2 96.0 262.5 C98.2 261.8 99.3 262.4 101.0 264.0 C102.7 265.6 104.2 268.0 106.0 272.0 C107.8 276.0 110.0 283.5 112.0 288.0 C114.0 292.5 116.3 296.9 118.0 299.0 C119.7 301.1 120.5 300.9 122.0 300.5 C123.5 300.1 125.3 297.8 127.0 296.5 C128.7 295.2 130.3 293.0 132.0 293.0 C133.7 293.0 135.2 294.4 137.0 296.5 C138.8 298.6 140.8 302.9 143.0 305.5 C145.2 308.1 147.7 310.6 150.0 312.0 C152.3 313.4 153.7 313.8 157.0 314.0 C160.3 314.2 165.8 313.2 170.0 313.0 C174.2 312.8 179.0 312.5 182.0 313.0 C185.0 313.5 185.8 314.8 188.0 316.0 C190.2 317.2 191.3 319.2 195.0 320.5 C198.7 321.8 202.5 322.6 210.0 323.5 C217.5 324.4 228.3 325.0 240.0 326.0 C251.7 327.0 265.0 328.4 280.0 329.5 C295.0 330.6 310.0 331.5 330.0 332.5 C350.0 333.5 376.7 334.7 400.0 335.5 C423.3 336.3 447.5 337.0 470.0 337.5 C492.5 338.0 524.2 338.2 535.0 338.3" fill="none" stroke="#8e28e2" stroke-width="1.50" stroke-opacity="1.00" stroke-linejoin="round"/><path d="M64.5 169.0 C64.6 175.2 65.0 195.3 65.3 206.0 C65.6 216.7 65.8 225.5 66.3 233.0 C66.8 240.5 67.3 246.2 68.3 251.0 C69.2 255.8 70.5 259.2 72.0 262.0 C73.5 264.8 75.3 266.5 77.0 268.0 C78.7 269.5 80.2 270.8 82.0 271.0 C83.8 271.2 85.7 270.2 88.0 269.0 C90.3 267.8 93.8 264.2 96.0 263.5 C98.2 262.8 99.3 263.4 101.0 265.0 C102.7 266.6 104.2 269.0 106.0 273.0 C107.8 277.0 110.0 284.5 112.0 289.0 C114.0 293.5 116.3 297.9 118.0 300.0 C119.7 302.0 120.5 301.9 122.0 301.4 C123.5 301.0 125.3 298.7 127.0 297.5 C128.7 296.3 130.3 294.0 132.0 294.0 C133.7 294.0 135.2 295.4 137.0 297.5 C138.8 299.6 140.8 303.8 143.0 306.3 C145.2 308.8 147.7 311.3 150.0 312.6 C152.3 314.0 153.7 314.4 157.0 314.6 C160.3 314.8 165.8 313.8 170.0 313.6 C174.2 313.5 179.0 313.1 182.0 313.6 C185.0 314.1 185.8 315.3 188.0 316.6 C190.2 317.8 191.3 319.7 195.0 320.9 C198.7 322.2 202.5 323.0 210.0 323.8 C217.5 324.7 228.3 325.3 240.0 326.2 C251.7 327.2 265.0 328.6 280.0 329.6 C295.0 330.7 310.0 331.6 330.0 332.6 C350.0 333.5 376.7 334.7 400.0 335.5 C423.3 336.3 447.5 337.0 470.0 337.5 C492.5 338.0 524.2 338.2 535.0 338.3" fill="none" stroke="#7a22d8" stroke-width="1.50" stroke-opacity="1.00" stroke-linejoin="round"/><path d="M64.5 170.0 C64.6 176.2 65.0 196.3 65.3 207.0 C65.6 217.7 65.8 226.5 66.3 234.0 C66.8 241.5 67.3 247.2 68.3 252.0 C69.2 256.8 70.5 260.2 72.0 263.0 C73.5 265.8 75.3 267.5 77.0 269.0 C78.7 270.5 80.2 271.8 82.0 272.0 C83.8 272.2 85.7 271.2 88.0 270.0 C90.3 268.8 93.8 265.2 96.0 264.5 C98.2 263.8 99.3 264.4 101.0 266.0 C102.7 267.6 104.2 270.0 106.0 274.0 C107.8 278.0 110.0 285.5 112.0 290.0 C114.0 294.5 116.3 298.9 118.0 300.9 C119.7 303.0 120.5 302.8 122.0 302.4 C123.5 302.0 125.3 299.7 127.0 298.5 C128.7 297.3 130.3 295.0 132.0 295.0 C133.7 295.0 135.2 296.5 137.0 298.5 C138.8 300.5 140.8 304.7 143.0 307.1 C145.2 309.6 147.7 312.0 150.0 313.3 C152.3 314.6 153.7 315.0 157.0 315.2 C160.3 315.4 165.8 314.4 170.0 314.2 C174.2 314.1 179.0 313.8 182.0 314.2 C185.0 314.7 185.8 315.9 188.0 317.1 C190.2 318.3 191.3 320.2 195.0 321.4 C198.7 322.6 202.5 323.3 210.0 324.2 C217.5 325.0 228.3 325.5 240.0 326.5 C251.7 327.4 265.0 328.7 280.0 329.7 C295.0 330.8 310.0 331.6 330.0 332.6 C350.0 333.6 376.7 334.7 400.0 335.5 C423.3 336.3 447.5 337.0 470.0 337.5 C492.5 338.0 524.2 338.2 535.0 338.3" fill="none" stroke="#6a1ed0" stroke-width="1.50" stroke-opacity="1.00" stroke-linejoin="round"/><path d="M64.5 171.0 C64.6 177.2 65.0 197.3 65.3 208.0 C65.6 218.7 65.8 227.5 66.3 235.0 C66.8 242.5 67.3 248.2 68.3 253.0 C69.2 257.8 70.5 261.2 72.0 264.0 C73.5 266.8 75.3 268.5 77.0 270.0 C78.7 271.5 80.2 272.8 82.0 273.0 C83.8 273.2 85.7 272.2 88.0 271.0 C90.3 269.8 93.8 266.2 96.0 265.5 C98.2 264.8 99.3 265.4 101.0 267.0 C102.7 268.6 104.2 271.0 106.0 275.0 C107.8 279.0 110.0 286.5 112.0 291.0 C114.0 295.5 116.3 299.9 118.0 301.9 C119.7 304.0 120.5 303.7 122.0 303.3 C123.5 302.9 125.3 300.7 127.0 299.5 C128.7 298.3 130.3 296.0 132.0 296.0 C133.7 296.0 135.2 297.5 137.0 299.5 C138.8 301.5 140.8 305.5 143.0 307.9 C145.2 310.3 147.7 312.6 150.0 313.9 C152.3 315.3 153.7 315.6 157.0 315.8 C160.3 316.0 165.8 315.0 170.0 314.9 C174.2 314.7 179.0 314.4 182.0 314.9 C185.0 315.3 185.8 316.5 188.0 317.6 C190.2 318.8 191.3 320.7 195.0 321.8 C198.7 323.0 202.5 323.7 210.0 324.5 C217.5 325.3 228.3 325.8 240.0 326.7 C251.7 327.6 265.0 328.9 280.0 329.9 C295.0 330.8 310.0 331.7 330.0 332.7 C350.0 333.6 376.7 334.7 400.0 335.5 C423.3 336.3 447.5 337.0 470.0 337.5 C492.5 338.0 524.2 338.2 535.0 338.3" fill="none" stroke="#5a18c0" stroke-width="1.50" stroke-opacity="1.00" stroke-linejoin="round"/><path d="M64.5 172.0 C64.6 178.2 65.0 198.3 65.3 209.0 C65.6 219.7 65.8 228.5 66.3 236.0 C66.8 243.5 67.3 249.2 68.3 254.0 C69.2 258.8 70.5 262.2 72.0 265.0 C73.5 267.8 75.3 269.5 77.0 271.0 C78.7 272.5 80.2 273.8 82.0 274.0 C83.8 274.2 85.7 273.2 88.0 272.0 C90.3 270.8 93.8 267.2 96.0 266.5 C98.2 265.8 99.3 266.4 101.0 268.0 C102.7 269.6 104.2 272.0 106.0 276.0 C107.8 280.0 110.0 287.5 112.0 292.0 C114.0 296.5 116.3 300.9 118.0 302.9 C119.7 304.9 120.5 304.6 122.0 304.2 C123.5 303.9 125.3 301.7 127.0 300.5 C128.7 299.3 130.3 297.0 132.0 297.0 C133.7 297.0 135.2 298.5 137.0 300.5 C138.8 302.5 140.8 306.4 143.0 308.8 C145.2 311.1 147.7 313.3 150.0 314.6 C152.3 315.9 153.7 316.2 157.0 316.4 C160.3 316.5 165.8 315.6 170.0 315.5 C174.2 315.4 179.0 315.1 182.0 315.5 C185.0 315.9 185.8 317.1 188.0 318.2 C190.2 319.3 191.3 321.1 195.0 322.2 C198.7 323.4 202.5 324.1 210.0 324.9 C217.5 325.7 228.3 326.1 240.0 326.9 C251.7 327.8 265.0 329.0 280.0 330.0 C295.0 330.9 310.0 331.8 330.0 332.7 C350.0 333.6 376.7 334.8 400.0 335.6 C423.3 336.3 447.5 337.0 470.0 337.5 C492.5 338.0 524.2 338.2 535.0 338.3" fill="none" stroke="#3a14b0" stroke-width="1.50" stroke-opacity="1.00" stroke-linejoin="round"/><path d="M64.5 173.0 C64.6 179.2 65.0 199.3 65.3 210.0 C65.6 220.7 65.8 229.5 66.3 237.0 C66.8 244.5 67.3 250.2 68.3 255.0 C69.2 259.8 70.5 263.2 72.0 266.0 C73.5 268.8 75.3 270.5 77.0 272.0 C78.7 273.5 80.2 274.8 82.0 275.0 C83.8 275.2 85.7 274.2 88.0 273.0 C90.3 271.8 93.8 268.2 96.0 267.5 C98.2 266.8 99.3 267.4 101.0 269.0 C102.7 270.6 104.2 273.0 106.0 277.0 C107.8 281.0 110.0 288.5 112.0 293.0 C114.0 297.5 116.3 301.8 118.0 303.9 C119.7 305.9 120.5 305.6 122.0 305.2 C123.5 304.8 125.3 302.7 127.0 301.5 C128.7 300.3 130.3 298.0 132.0 298.0 C133.7 298.0 135.2 299.6 137.0 301.5 C138.8 303.4 140.8 307.3 143.0 309.6 C145.2 311.9 147.7 314.0 150.0 315.2 C152.3 316.5 153.7 316.9 157.0 317.0 C160.3 317.1 165.8 316.3 170.0 316.1 C174.2 316.0 179.0 315.7 182.0 316.1 C185.0 316.6 185.8 317.7 188.0 318.8 C190.2 319.8 191.3 321.6 195.0 322.7 C198.7 323.8 202.5 324.5 210.0 325.2 C217.5 326.0 228.3 326.4 240.0 327.2 C251.7 328.0 265.0 329.2 280.0 330.1 C295.0 331.0 310.0 331.8 330.0 332.8 C350.0 333.7 376.7 334.8 400.0 335.6 C423.3 336.4 447.5 337.1 470.0 337.5 C492.5 338.0 524.2 338.2 535.0 338.3" fill="none" stroke="#2a10a0" stroke-width="1.50" stroke-opacity="1.00" stroke-linejoin="round"/><path d="M64.5 174.0 C64.6 180.2 65.0 200.3 65.3 211.0 C65.6 221.7 65.8 230.5 66.3 238.0 C66.8 245.5 67.3 251.2 68.3 256.0 C69.2 260.8 70.5 264.2 72.0 267.0 C73.5 269.8 75.3 271.5 77.0 273.0 C78.7 274.5 80.2 275.8 82.0 276.0 C83.8 276.2 85.7 275.2 88.0 274.0 C90.3 272.8 93.8 269.2 96.0 268.5 C98.2 267.8 99.3 268.4 101.0 270.0 C102.7 271.6 104.2 274.0 106.0 278.0 C107.8 282.0 110.0 289.5 112.0 294.0 C114.0 298.5 116.3 302.8 118.0 304.9 C119.7 306.9 120.5 306.5 122.0 306.1 C123.5 305.7 125.3 303.7 127.0 302.5 C128.7 301.3 130.3 299.0 132.0 299.0 C133.7 299.0 135.2 300.6 137.0 302.5 C138.8 304.4 140.8 308.1 143.0 310.4 C145.2 312.6 147.7 314.7 150.0 315.9 C152.3 317.1 153.7 317.5 157.0 317.6 C160.3 317.7 165.8 316.9 170.0 316.8 C174.2 316.6 179.0 316.3 182.0 316.8 C185.0 317.2 185.8 318.2 188.0 319.3 C190.2 320.4 191.3 322.1 195.0 323.1 C198.7 324.2 202.5 324.8 210.0 325.6 C217.5 326.3 228.3 326.6 240.0 327.4 C251.7 328.2 265.0 329.3 280.0 330.2 C295.0 331.1 310.0 331.9 330.0 332.8 C350.0 333.7 376.7 334.8 400.0 335.6 C423.3 336.4 447.5 337.1 470.0 337.5 C492.5 338.0 524.2 338.2 535.0 338.3" fill="none" stroke="#24108f" stroke-width="1.50" stroke-opacity="1.00" stroke-linejoin="round"/><path d="M64.5 175.0 C64.6 181.2 65.0 201.3 65.3 212.0 C65.6 222.7 65.8 231.5 66.3 239.0 C66.8 246.5 67.3 252.2 68.3 257.0 C69.2 261.8 70.5 265.2 72.0 268.0 C73.5 270.8 75.3 272.5 77.0 274.0 C78.7 275.5 80.2 276.8 82.0 277.0 C83.8 277.2 85.7 276.2 88.0 275.0 C90.3 273.8 93.8 270.2 96.0 269.5 C98.2 268.8 99.3 269.4 101.0 271.0 C102.7 272.6 104.2 275.0 106.0 279.0 C107.8 283.0 110.0 290.5 112.0 295.0 C114.0 299.5 116.3 303.8 118.0 305.8 C119.7 307.8 120.5 307.4 122.0 307.1 C123.5 306.7 125.3 304.7 127.0 303.5 C128.7 302.3 130.3 300.0 132.0 300.0 C133.7 300.0 135.2 301.6 137.0 303.5 C138.8 305.4 140.8 309.0 143.0 311.2 C145.2 313.4 147.7 315.4 150.0 316.6 C152.3 317.7 153.7 318.1 157.0 318.2 C160.3 318.3 165.8 317.5 170.0 317.4 C174.2 317.2 179.0 317.0 182.0 317.4 C185.0 317.8 185.8 318.8 188.0 319.9 C190.2 320.9 191.3 322.6 195.0 323.6 C198.7 324.6 202.5 325.2 210.0 325.9 C217.5 326.6 228.3 326.9 240.0 327.6 C251.7 328.4 265.0 329.5 280.0 330.3 C295.0 331.2 310.0 332.0 330.0 332.9 C350.0 333.7 376.7 334.8 400.0 335.6 C423.3 336.4 447.5 337.1 470.0 337.5 C492.5 338.0 524.2 338.2 535.0 338.3" fill="none" stroke="#1e0c88" stroke-width="1.50" stroke-opacity="1.00" stroke-linejoin="round"/><path d="M63.5 165.0 C63.7 172.5 64.1 196.7 64.5 210.0 C64.9 223.3 65.2 235.3 66.0 245.0 C66.8 254.7 67.5 262.3 69.0 268.0 C70.5 273.7 73.2 275.8 75.0 279.0 C76.8 282.2 78.3 284.9 80.0 287.0 C81.7 289.1 82.5 290.5 85.0 291.5 C87.5 292.5 92.1 292.9 95.0 293.0 C97.9 293.1 100.3 291.3 102.5 292.0 C104.7 292.7 106.4 295.2 108.0 297.0 C109.6 298.8 110.3 300.3 112.0 302.9 C113.7 305.5 116.3 310.8 118.0 312.8 C119.7 314.8 120.5 315.2 122.0 315.1 C123.5 314.9 125.3 313.1 127.0 312.2 C128.7 311.3 130.3 309.7 132.0 309.8 C133.7 309.9 135.2 310.9 137.0 312.6 C138.8 314.3 140.8 318.0 143.0 320.0 C145.2 322.1 147.7 324.0 150.0 324.9 C152.3 325.8 153.7 325.3 157.0 325.4 C160.3 325.5 165.8 325.7 170.0 325.6 C174.2 325.5 179.0 324.6 182.0 324.8 C185.0 324.9 185.8 325.8 188.0 326.6 C190.2 327.4 191.3 328.9 195.0 329.7 C198.7 330.4 202.5 330.8 210.0 331.1 C217.5 331.5 228.3 331.6 240.0 332.0 C251.7 332.3 265.0 332.7 280.0 333.2 C295.0 333.7 310.0 334.1 330.0 334.8 C350.0 335.5 376.7 336.6 400.0 337.2 C423.3 337.9 447.5 338.4 470.0 338.7 C492.5 339.0 524.2 338.9 535.0 339.0" fill="none" stroke="#c23bdf" stroke-width="1.60" stroke-opacity="1.00" stroke-linejoin="round"/><path d="M63.8 11.0 C63.9 25.8 64.1 76.8 64.4 100.0 C64.7 123.2 65.2 139.2 65.8 150.0 C66.4 160.8 67.1 160.5 68.0 165.0 C68.9 169.5 70.1 171.2 71.0 177.0 C71.9 182.8 72.7 192.8 73.5 200.0 C74.3 207.2 75.2 213.6 76.0 220.0 C76.8 226.4 77.4 231.3 78.4 238.5 C79.4 245.7 80.6 257.1 82.0 263.0 C83.4 268.9 85.3 270.3 87.0 274.0 C88.7 277.7 90.4 281.5 92.0 285.0 C93.6 288.5 94.1 291.4 96.6 295.0 C99.1 298.6 103.4 302.8 106.8 306.5 C110.2 310.2 113.6 314.8 117.0 317.0 C120.4 319.2 124.5 319.4 127.4 319.7 C130.3 319.9 132.3 318.0 134.7 318.5 C137.1 319.0 139.3 321.0 142.0 322.6 C144.7 324.2 147.6 327.0 150.9 328.3 C154.2 329.6 158.0 330.0 162.0 330.5 C166.0 331.0 168.7 330.8 175.0 331.5 C181.3 332.2 189.2 333.6 200.0 334.5 C210.8 335.4 223.3 336.3 240.0 337.0 C256.7 337.7 250.8 338.1 300.0 338.5 C349.2 338.9 495.8 339.1 535.0 339.2" fill="none" stroke="#a86a3c" stroke-width="1.80" stroke-opacity="1.00" stroke-linejoin="round"/><path d="M64.0 11.0 C64.3 16.7 65.0 33.5 65.6 45.0 C66.2 56.5 66.9 70.8 67.6 80.0 C68.3 89.2 69.2 93.3 70.0 100.0 C70.8 106.7 71.7 113.3 72.5 120.0 C73.3 126.7 74.2 133.8 74.9 140.0 C75.6 146.2 76.0 151.2 76.8 157.0 C77.6 162.8 78.5 170.4 79.6 175.0 C80.7 179.6 82.2 182.1 83.4 184.3 C84.6 186.6 85.9 187.5 87.0 188.5 C88.1 189.5 89.1 189.0 90.0 190.1 C90.9 191.2 91.5 193.0 92.2 195.3 C92.9 197.6 93.2 200.6 94.4 204.0 C95.6 207.4 97.8 211.8 99.6 216.0 C101.4 220.2 103.3 225.2 105.0 229.0 C106.7 232.8 108.1 235.5 109.5 239.0 C110.9 242.5 112.2 246.3 113.5 250.0 C114.8 253.7 115.9 257.3 117.0 261.0 C118.1 264.7 119.0 268.8 120.0 272.0 C121.0 275.2 121.9 278.2 123.0 280.5 C124.1 282.8 124.6 284.6 126.6 285.9 C128.5 287.1 132.4 287.1 134.7 288.0 C137.0 288.9 138.6 289.2 140.6 291.0 C142.6 292.8 144.5 295.8 146.5 299.0 C148.5 302.2 150.7 307.4 152.4 310.0 C154.1 312.6 155.2 313.0 156.8 314.5 C158.4 316.0 160.1 317.8 162.0 319.0 C163.9 320.2 164.8 320.9 168.0 321.5 C171.2 322.1 177.0 320.9 181.0 322.5 C185.0 324.1 187.2 329.1 192.0 331.0 C196.8 332.9 198.7 333.1 210.0 334.0 C221.3 334.9 240.0 335.9 260.0 336.5 C280.0 337.1 311.0 337.2 330.0 337.5 C349.0 337.8 364.8 338.4 374.0 338.4 C383.2 338.4 382.0 337.9 385.0 337.3 C388.0 336.7 389.8 335.6 392.0 334.5 C394.2 333.4 396.0 331.5 398.0 330.5 C400.0 329.5 402.0 328.4 404.0 328.4 C406.0 328.4 408.0 329.5 410.0 330.5 C412.0 331.5 413.8 333.4 416.0 334.5 C418.2 335.6 420.2 336.6 423.0 337.3 C425.8 338.0 414.3 338.3 433.0 338.5 C451.7 338.7 518.0 338.6 535.0 338.6" fill="none" stroke="#a5673a" stroke-width="1.80" stroke-opacity="1.00" stroke-linejoin="round"/></g>
<rect x="203" y="42.7" width="289.6" height="201.1" fill="#fff"/>
<clipPath id="ic"><rect x="203" y="42.7" width="289.6" height="201.1"/></clipPath>
<g clip-path="url(#ic)"><path d="M203.0 171.7 L204.0 171.7 L204.0 173.4 L210.0 173.4 L210.0 175.1 L217.0 175.1 L217.0 176.8 L220.0 176.8 L221.2 179.4 L222.4 176.8 L223.4 176.8 L223.4 178.5 L229.4 178.5 L229.4 180.2 L231.4 180.2 L232.6 177.6 L233.8 180.2 L235.8 180.2 L235.8 181.9 L241.8 181.9 L241.8 183.6 L247.8 183.6 L247.8 185.3 L254.8 185.3 L256.0 182.7 L257.2 185.3 L257.2 185.3 L257.2 187.0 L261.2 187.0 L261.2 188.7 L270.2 188.7 L271.4 186.1 L272.6 188.7 L272.6 188.7 L272.6 190.4 L275.6 190.4 L276.8 193.0 L278.0 190.4 L279.0 190.4 L279.0 192.1 L288.0 192.1 L288.0 193.8 L297.0 193.8 L297.0 195.5 L306.0 195.5 L306.0 197.2 L315.0 197.2 L315.0 198.9 L324.0 198.9 L324.0 200.6 L334.0 200.6 L334.0 202.3 L340.0 202.3 L340.0 204.0 L348.0 204.0 L348.0 202.3 L371.0 202.3 L372.2 204.9 L373.4 202.3 L373.4 202.3 L373.4 204.0 L376.4 204.0 L376.4 205.7 L379.4 205.7 L379.4 207.4 L383.4 207.4 L383.4 209.1 L390.4 209.1 L390.4 210.8 L398.4 210.8 L398.4 212.5 L404.4 212.5 L404.4 214.2 L411.4 214.2 L411.4 215.9 L428.4 215.9 L428.4 217.6 L430.4 217.6 L431.6 220.2 L432.8 217.6 L446.8 217.6 L446.8 219.3 L458.8 219.3 L460.0 221.9 L461.2 219.3 L464.2 219.3 L464.2 221.0 L482.2 221.0 L482.2 222.7 L491.2 222.7 L492.4 225.3 L493.6 222.7 L493.0 222.7" fill="none" stroke="#fdeaf8" stroke-width="6" stroke-linejoin="round"/><path d="M203.0 178.5 L206.0 178.5 L206.0 180.2 L212.0 180.2 L212.0 181.9 L218.0 181.9 L218.0 183.6 L224.0 183.6 L224.0 185.3 L230.0 185.3 L231.2 182.7 L232.4 185.3 L233.4 185.3 L233.4 187.0 L237.4 187.0 L237.4 188.7 L243.4 188.7 L243.4 190.4 L249.4 190.4 L249.4 192.1 L256.4 192.1 L256.4 193.8 L262.4 193.8 L262.4 195.5 L272.4 195.5 L272.4 197.2 L282.4 197.2 L282.4 198.9 L292.4 198.9 L293.6 201.5 L294.8 198.9 L294.8 198.9 L294.8 200.6 L301.8 200.6 L301.8 202.3 L311.8 202.3 L311.8 204.0 L321.8 204.0 L321.8 205.7 L330.8 205.7 L330.8 207.4 L344.8 207.4 L344.8 209.1 L345.8 209.1 L347.0 206.5 L348.2 209.1 L359.2 209.1 L359.2 210.8 L374.2 210.8 L374.2 212.5 L382.2 212.5 L383.4 209.9 L384.6 212.5 L388.6 212.5 L389.8 215.1 L391.0 212.5 L391.0 212.5 L391.0 214.2 L399.0 214.2 L400.2 216.8 L401.4 214.2 L403.4 214.2 L403.4 215.9 L404.4 215.9 L405.6 218.5 L406.8 215.9 L418.8 215.9 L418.8 217.6 L423.8 217.6 L425.0 215.0 L426.2 217.6 L432.2 217.6 L432.2 219.3 L437.2 219.3 L438.4 221.9 L439.6 219.3 L445.6 219.3 L445.6 221.0 L457.6 221.0 L458.8 218.4 L460.0 221.0 L461.0 221.0 L461.0 222.7 L473.0 222.7 L473.0 224.4 L487.0 224.4 L487.0 226.1 L493.0 226.1" fill="none" stroke="#fdeaf8" stroke-width="6" stroke-linejoin="round"/><path d="M203.0 197.2 L204.0 197.2 L205.2 199.8 L206.4 197.2 L207.4 197.2 L207.4 198.9 L221.4 198.9 L221.4 200.6 L222.4 200.6 L223.6 198.0 L224.8 200.6 L235.8 200.6 L235.8 202.3 L240.8 202.3 L242.0 199.7 L243.2 202.3 L250.2 202.3 L250.2 204.0 L252.2 204.0 L253.4 206.6 L254.6 204.0 L264.6 204.0 L264.6 205.7 L278.6 205.7 L278.6 207.4 L293.6 207.4 L293.6 209.1 L299.6 209.1 L300.8 211.7 L302.0 209.1 L308.0 209.1 L308.0 210.8 L312.0 210.8 L313.2 213.4 L314.4 210.8 L317.4 210.8 L318.6 213.4 L319.8 210.8 L321.8 210.8 L323.0 208.2 L324.2 210.8 L325.2 210.8 L325.2 212.5 L337.2 212.5 L337.2 214.2 L351.2 214.2 L351.2 215.9 L361.2 215.9 L362.4 213.3 L363.6 215.9 L366.6 215.9 L366.6 217.6 L378.6 217.6 L379.8 220.2 L381.0 217.6 L382.0 217.6 L382.0 219.3 L388.0 219.3 L389.2 221.9 L390.4 219.3 L393.4 219.3 L394.6 221.9 L395.8 219.3 L396.8 219.3 L396.8 221.0 L410.8 221.0 L410.8 222.7 L426.8 222.7 L428.0 220.1 L429.2 222.7 L430.2 222.7 L430.2 224.4 L434.2 224.4 L435.4 227.0 L436.6 224.4 L440.6 224.4 L441.8 227.0 L443.0 224.4 L444.0 224.4 L445.2 227.0 L446.4 224.4 L450.4 224.4 L451.6 221.8 L452.8 224.4 L453.8 224.4 L453.8 226.1 L464.8 226.1 L466.0 228.7 L467.2 226.1 L475.2 226.1 L476.4 223.5 L477.6 226.1 L478.6 226.1 L478.6 227.8 L493.0 227.8" fill="none" stroke="#fdeaf8" stroke-width="6" stroke-linejoin="round"/><path d="M203.0 200.6 L209.0 200.6 L210.2 203.2 L211.4 200.6 L212.4 200.6 L213.6 203.2 L214.8 200.6 L215.8 200.6 L215.8 202.3 L222.8 202.3 L224.0 199.7 L225.2 202.3 L226.2 202.3 L226.2 204.0 L228.2 204.0 L229.4 206.6 L230.6 204.0 L235.6 204.0 L236.8 206.6 L238.0 204.0 L239.0 204.0 L239.0 205.7 L244.0 205.7 L245.2 203.1 L246.4 205.7 L249.4 205.7 L250.6 203.1 L251.8 205.7 L252.8 205.7 L252.8 207.4 L263.8 207.4 L263.8 209.1 L266.8 209.1 L268.0 211.7 L269.2 209.1 L271.2 209.1 L272.4 206.5 L273.6 209.1 L281.6 209.1 L281.6 210.8 L283.6 210.8 L284.8 213.4 L286.0 210.8 L287.0 210.8 L288.2 208.2 L289.4 210.8 L298.4 210.8 L299.6 213.4 L300.8 210.8 L301.8 210.8 L301.8 212.5 L309.8 212.5 L311.0 215.1 L312.2 212.5 L317.2 212.5 L317.2 214.2 L322.2 214.2 L323.4 216.8 L324.6 214.2 L327.6 214.2 L328.8 216.8 L330.0 214.2 L333.0 214.2 L334.2 211.6 L335.4 214.2 L336.4 214.2 L336.4 215.9 L343.4 215.9 L344.6 218.5 L345.8 215.9 L350.8 215.9 L350.8 217.6 L357.8 217.6 L359.0 215.0 L360.2 217.6 L367.2 217.6 L367.2 219.3 L372.2 219.3 L373.4 221.9 L374.6 219.3 L379.6 219.3 L380.8 221.9 L382.0 219.3 L384.0 219.3 L384.0 221.0 L397.0 221.0 L398.2 218.4 L399.4 221.0 L400.4 221.0 L400.4 222.7 L401.4 222.7 L402.6 225.3 L403.8 222.7 L416.8 222.7 L416.8 224.4 L437.8 224.4 L439.0 227.0 L440.2 224.4 L441.2 224.4 L441.2 226.1 L442.2 226.1 L443.4 228.7 L444.6 226.1 L447.6 226.1 L448.8 223.5 L450.0 226.1 L460.0 226.1 L461.2 228.7 L462.4 226.1 L463.4 226.1 L463.4 227.8 L473.4 227.8 L474.6 230.4 L475.8 227.8 L482.8 227.8 L484.0 230.4 L485.2 227.8 L488.2 227.8 L488.2 229.5 L493.0 229.5" fill="none" stroke="#fdeaf8" stroke-width="6" stroke-linejoin="round"/><path d="M203.0 204.0 L204.0 204.0 L205.2 206.6 L206.4 204.0 L207.4 204.0 L208.6 206.6 L209.8 204.0 L214.8 204.0 L214.8 205.7 L215.8 205.7 L217.0 203.1 L218.2 205.7 L230.2 205.7 L230.2 207.4 L245.2 207.4 L245.2 209.1 L248.2 209.1 L249.4 211.7 L250.6 209.1 L252.6 209.1 L253.8 211.7 L255.0 209.1 L261.0 209.1 L261.0 210.8 L265.0 210.8 L266.2 208.2 L267.4 210.8 L276.4 210.8 L277.6 213.4 L278.8 210.8 L281.8 210.8 L281.8 212.5 L283.8 212.5 L285.0 215.1 L286.2 212.5 L287.2 212.5 L288.4 215.1 L289.6 212.5 L301.6 212.5 L301.6 214.2 L322.6 214.2 L322.6 215.9 L330.6 215.9 L331.8 213.3 L333.0 215.9 L334.0 215.9 L335.2 218.5 L336.4 215.9 L338.4 215.9 L339.6 213.3 L340.8 215.9 L341.8 215.9 L341.8 217.6 L346.8 217.6 L348.0 220.2 L349.2 217.6 L355.2 217.6 L356.4 220.2 L357.6 217.6 L358.6 217.6 L359.8 215.0 L361.0 217.6 L361.0 217.6 L361.0 219.3 L370.0 219.3 L371.2 216.7 L372.4 219.3 L373.4 219.3 L373.4 221.0 L375.4 221.0 L376.6 223.6 L377.8 221.0 L389.8 221.0 L389.8 222.7 L406.8 222.7 L406.8 224.4 L421.8 224.4 L423.0 227.0 L424.2 224.4 L425.2 224.4 L425.2 226.1 L440.2 226.1 L441.4 228.7 L442.6 226.1 L448.6 226.1 L448.6 227.8 L454.6 227.8 L455.8 230.4 L457.0 227.8 L466.0 227.8 L467.2 230.4 L468.4 227.8 L473.4 227.8 L474.6 225.2 L475.8 227.8 L475.8 227.8 L475.8 229.5 L480.8 229.5 L482.0 232.1 L483.2 229.5 L493.0 229.5" fill="none" stroke="#fdeaf8" stroke-width="6" stroke-linejoin="round"/><path d="M203.0 207.4 L215.0 207.4 L215.0 209.1 L216.0 209.1 L217.2 211.7 L218.4 209.1 L222.4 209.1 L223.6 211.7 L224.8 209.1 L227.8 209.1 L229.0 211.7 L230.2 209.1 L236.2 209.1 L236.2 210.8 L257.2 210.8 L257.2 212.5 L266.2 212.5 L267.4 215.1 L268.6 212.5 L272.6 212.5 L273.8 209.9 L275.0 212.5 L278.0 212.5 L278.0 214.2 L280.0 214.2 L281.2 216.8 L282.4 214.2 L298.4 214.2 L299.6 216.8 L300.8 214.2 L300.8 214.2 L300.8 215.9 L301.8 215.9 L303.0 218.5 L304.2 215.9 L307.2 215.9 L308.4 218.5 L309.6 215.9 L315.6 215.9 L316.8 213.3 L318.0 215.9 L319.0 215.9 L319.0 217.6 L339.0 217.6 L339.0 219.3 L357.0 219.3 L358.2 216.7 L359.4 219.3 L359.4 219.3 L359.4 221.0 L368.4 221.0 L369.6 223.6 L370.8 221.0 L372.8 221.0 L374.0 223.6 L375.2 221.0 L376.2 221.0 L376.2 222.7 L379.2 222.7 L380.4 225.3 L381.6 222.7 L386.6 222.7 L387.8 225.3 L389.0 222.7 L394.0 222.7 L394.0 224.4 L413.0 224.4 L413.0 226.1 L414.0 226.1 L415.2 228.7 L416.4 226.1 L425.4 226.1 L426.6 223.5 L427.8 226.1 L440.8 226.1 L440.8 227.8 L457.8 227.8 L459.0 230.4 L460.2 227.8 L463.2 227.8 L464.4 225.2 L465.6 227.8 L470.6 227.8 L471.8 225.2 L473.0 227.8 L476.0 227.8 L477.2 230.4 L478.4 227.8 L478.4 227.8 L478.4 229.5 L485.4 229.5 L486.6 232.1 L487.8 229.5 L493.0 229.5" fill="none" stroke="#fdeaf8" stroke-width="6" stroke-linejoin="round"/><path d="M203.0 212.5 L208.0 212.5 L209.2 209.9 L210.4 212.5 L211.4 212.5 L211.4 214.2 L214.4 214.2 L215.6 216.8 L216.8 214.2 L223.8 214.2 L223.8 215.9 L226.8 215.9 L228.0 213.3 L229.2 215.9 L236.2 215.9 L236.2 217.6 L249.2 217.6 L249.2 219.3 L264.2 219.3 L264.2 221.0 L274.2 221.0 L275.4 223.6 L276.6 221.0 L280.6 221.0 L281.8 223.6 L283.0 221.0 L286.0 221.0 L287.2 223.6 L288.4 221.0 L292.4 221.0 L293.6 218.4 L294.8 221.0 L295.8 221.0 L295.8 222.7 L303.8 222.7 L305.0 220.1 L306.2 222.7 L311.2 222.7 L312.4 225.3 L313.6 222.7 L325.6 222.7 L325.6 224.4 L360.6 224.4 L360.6 226.1 L384.6 226.1 L385.8 228.7 L387.0 226.1 L391.0 226.1 L392.2 223.5 L393.4 226.1 L397.4 226.1 L397.4 227.8 L419.4 227.8 L420.6 230.4 L421.8 227.8 L427.8 227.8 L429.0 230.4 L430.2 227.8 L436.2 227.8 L436.2 229.5 L437.2 229.5 L438.4 232.1 L439.6 229.5 L467.6 229.5 L468.8 226.9 L470.0 229.5 L477.0 229.5 L477.0 231.2 L493.0 231.2" fill="none" stroke="#fdeaf8" stroke-width="6" stroke-linejoin="round"/><path d="M203.0 215.9 L211.0 215.9 L212.2 218.5 L213.4 215.9 L219.4 215.9 L220.6 218.5 L221.8 215.9 L221.8 215.9 L221.8 217.6 L231.8 217.6 L233.0 220.2 L234.2 217.6 L241.2 217.6 L241.2 219.3 L251.2 219.3 L252.4 216.7 L253.6 219.3 L274.6 219.3 L275.8 221.9 L277.0 219.3 L303.0 219.3 L304.2 221.9 L305.4 219.3 L322.4 219.3 L322.4 217.6 L330.4 217.6 L330.4 215.9 L342.4 215.9 L342.4 214.2 L346.4 214.2 L346.4 212.5 L348.4 212.5 L348.4 210.8 L350.4 210.8 L350.4 209.1 L351.4 209.1 L351.4 207.4 L353.4 207.4 L353.4 205.7 L354.4 205.7 L354.4 204.0 L355.4 204.0 L355.4 202.3 L357.4 202.3 L357.4 200.6 L358.4 200.6 L358.4 198.9 L360.4 198.9 L360.4 197.2 L361.4 197.2 L361.4 195.5 L365.4 195.5 L365.4 193.8 L366.4 193.8 L366.4 195.5 L369.4 195.5 L369.4 197.2 L371.4 197.2 L371.4 198.9 L372.4 198.9 L372.4 200.6 L374.4 200.6 L374.4 202.3 L375.4 202.3 L376.6 204.9 L377.8 202.3 L377.8 202.3 L377.8 204.0 L378.8 204.0 L378.8 209.1 L379.8 209.1 L379.8 210.8 L380.8 210.8 L380.8 212.5 L381.8 212.5 L381.8 214.2 L382.8 214.2 L382.8 215.9 L384.8 215.9 L384.8 217.6 L385.8 217.6 L385.8 219.3 L387.8 219.3 L387.8 221.0 L390.8 221.0 L390.8 222.7 L394.8 222.7 L394.8 224.4 L401.8 224.4 L401.8 226.1 L412.8 226.1 L412.8 227.8 L433.8 227.8 L433.8 229.5 L439.8 229.5 L441.0 232.1 L442.2 229.5 L451.2 229.5 L452.4 232.1 L453.6 229.5 L461.6 229.5 L462.8 232.1 L464.0 229.5 L469.0 229.5 L469.0 231.2 L477.0 231.2 L478.2 233.8 L479.4 231.2 L488.4 231.2 L489.6 233.8 L490.8 231.2 L493.0 231.2" fill="none" stroke="#fdeaf8" stroke-width="6" stroke-linejoin="round"/><path d="M203.0 219.3 L234.0 219.3 L235.2 216.7 L236.4 219.3 L248.4 219.3 L249.6 221.9 L250.8 219.3 L271.8 219.3 L271.8 221.0 L294.8 221.0 L296.0 218.4 L297.2 221.0 L315.2 221.0 L316.4 223.6 L317.6 221.0 L333.6 221.0 L334.8 223.6 L336.0 221.0 L340.0 221.0 L340.0 219.3 L343.0 219.3 L343.0 217.6 L345.0 217.6 L345.0 215.9 L346.0 215.9 L346.0 214.2 L348.0 214.2 L348.0 212.5 L349.0 212.5 L349.0 210.8 L351.0 210.8 L351.0 209.1 L353.0 209.1 L353.0 207.4 L364.0 207.4 L365.2 210.0 L366.4 207.4 L368.4 207.4 L369.6 204.8 L370.8 207.4 L373.8 207.4 L373.8 209.1 L376.8 209.1 L376.8 210.8 L378.8 210.8 L380.0 213.4 L381.2 210.8 L381.2 210.8 L381.2 212.5 L382.2 212.5 L382.2 217.6 L384.2 217.6 L384.2 219.3 L386.2 219.3 L386.2 221.0 L388.2 221.0 L388.2 222.7 L395.2 222.7 L396.4 225.3 L397.6 222.7 L404.6 222.7 L405.8 220.1 L407.0 222.7 L408.0 222.7 L408.0 224.4 L411.0 224.4 L412.2 227.0 L413.4 224.4 L421.4 224.4 L422.6 227.0 L423.8 224.4 L448.8 224.4 L450.0 221.8 L451.2 224.4 L466.2 224.4 L466.2 226.1 L478.2 226.1 L479.4 228.7 L480.6 226.1 L493.0 226.1" fill="none" stroke="#fdeaf8" stroke-width="6" stroke-linejoin="round"/><path d="M203.0 222.7 L235.0 222.7 L235.0 224.4 L243.0 224.4 L244.2 221.8 L245.4 224.4 L257.4 224.4 L258.6 221.8 L259.8 224.4 L283.8 224.4 L285.0 227.0 L286.2 224.4 L293.2 224.4 L294.4 221.8 L295.6 224.4 L306.6 224.4 L306.6 226.1 L308.6 226.1 L309.8 228.7 L311.0 226.1 L319.0 226.1 L320.2 223.5 L321.4 226.1 L323.4 226.1 L324.6 228.7 L325.8 226.1 L340.8 226.1 L342.0 228.7 L343.2 226.1 L347.2 226.1 L348.4 228.7 L349.6 226.1 L354.6 226.1 L355.8 228.7 L357.0 226.1 L375.0 226.1 L376.2 228.7 L377.4 226.1 L377.4 226.1 L377.4 227.8 L407.4 227.8 L408.6 225.2 L409.8 227.8 L440.8 227.8 L442.0 230.4 L443.2 227.8 L453.2 227.8 L454.4 230.4 L455.6 227.8 L461.6 227.8 L462.8 230.4 L464.0 227.8 L468.0 227.8 L468.0 229.5 L493.0 229.5" fill="none" stroke="#fdeaf8" stroke-width="6" stroke-linejoin="round"/><path d="M203.0 226.1 L221.0 226.1 L222.2 228.7 L223.4 226.1 L258.4 226.1 L259.6 228.7 L260.8 226.1 L264.8 226.1 L266.0 228.7 L267.2 226.1 L281.2 226.1 L282.4 223.5 L283.6 226.1 L293.6 226.1 L293.6 227.8 L362.6 227.8 L363.8 230.4 L365.0 227.8 L368.0 227.8 L369.2 230.4 L370.4 227.8 L378.4 227.8 L379.6 230.4 L380.8 227.8 L385.8 227.8 L387.0 225.2 L388.2 227.8 L400.2 227.8 L400.2 229.5 L457.2 229.5 L458.4 226.9 L459.6 229.5 L493.0 229.5" fill="none" stroke="#fdeaf8" stroke-width="6" stroke-linejoin="round"/><path d="M203.0 227.8 L207.0 227.8 L208.2 225.2 L209.4 227.8 L221.4 227.8 L222.6 230.4 L223.8 227.8 L225.8 227.8 L227.0 225.2 L228.2 227.8 L261.2 227.8 L262.4 225.2 L263.6 227.8 L283.6 227.8 L283.6 229.5 L318.6 229.5 L319.8 232.1 L321.0 229.5 L325.0 229.5 L326.2 226.9 L327.4 229.5 L348.4 229.5 L349.6 232.1 L350.8 229.5 L392.8 229.5 L394.0 232.1 L395.2 229.5 L412.2 229.5 L413.4 232.1 L414.6 229.5 L416.6 229.5 L417.8 232.1 L419.0 229.5 L425.0 229.5 L426.2 232.1 L427.4 229.5 L446.4 229.5 L446.4 231.2 L457.4 231.2 L458.6 228.6 L459.8 231.2 L470.8 231.2 L472.0 233.8 L473.2 231.2 L493.0 231.2" fill="none" stroke="#fdeaf8" stroke-width="6" stroke-linejoin="round"/><path d="M203.0 231.2 L261.0 231.2 L262.2 233.8 L263.4 231.2 L279.4 231.2 L279.4 229.5 L327.4 229.5 L328.6 232.1 L329.8 229.5 L355.8 229.5 L357.0 232.1 L358.2 229.5 L374.2 229.5 L375.4 232.1 L376.6 229.5 L381.6 229.5 L382.8 232.1 L384.0 229.5 L387.0 229.5 L387.0 231.2 L393.0 231.2 L394.2 228.6 L395.4 231.2 L401.4 231.2 L402.6 228.6 L403.8 231.2 L438.8 231.2 L440.0 228.6 L441.2 231.2 L448.2 231.2 L449.4 228.6 L450.6 231.2 L457.6 231.2 L458.8 228.6 L460.0 231.2 L471.0 231.2 L471.0 232.9 L493.0 232.9" fill="none" stroke="#fdeaf8" stroke-width="6" stroke-linejoin="round"/><path d="M203.0 172.5 L204.0 172.5 L205.0 172.5 L206.0 172.5 L206.0 174.0 L207.0 174.0 L208.0 174.0 L209.0 174.0 L210.0 174.0 L211.0 174.0 L211.0 175.5 L212.0 175.5 L213.0 175.5 L214.0 175.5 L215.0 175.5 L216.0 175.5 L216.0 177.0 L217.0 177.0 L218.0 177.0 L219.0 177.0 L220.0 177.0 L220.0 178.5 L221.0 178.5 L222.0 178.5 L223.0 178.5 L224.0 178.5 L225.0 178.5 L225.0 180.0 L226.0 180.0 L227.0 180.0 L228.0 180.0 L229.0 180.0 L230.0 180.0 L230.0 181.5 L231.0 181.5 L232.0 181.5 L233.0 181.5 L234.0 181.5 L235.0 181.5 L236.0 181.5 L236.0 183.0 L237.0 183.0 L238.0 183.0 L239.0 183.0 L240.0 183.0 L241.0 183.0 L242.0 183.0 L243.0 183.0 L243.0 184.5 L244.0 184.5 L245.0 184.5 L246.0 184.5 L247.0 184.5 L248.0 184.5 L249.0 184.5 L249.0 186.0 L250.0 186.0 L251.0 186.0 L252.0 186.0 L253.0 186.0" fill="none" stroke="#fdeaf8" stroke-width="6" stroke-linejoin="round"/><path d="M203.0 171.7 L204.0 171.7 L204.0 173.4 L210.0 173.4 L210.0 175.1 L217.0 175.1 L217.0 176.8 L220.0 176.8 L221.2 179.4 L222.4 176.8 L223.4 176.8 L223.4 178.5 L229.4 178.5 L229.4 180.2 L231.4 180.2 L232.6 177.6 L233.8 180.2 L235.8 180.2 L235.8 181.9 L241.8 181.9 L241.8 183.6 L247.8 183.6 L247.8 185.3 L254.8 185.3 L256.0 182.7 L257.2 185.3 L257.2 185.3 L257.2 187.0 L261.2 187.0 L261.2 188.7 L270.2 188.7 L271.4 186.1 L272.6 188.7 L272.6 188.7 L272.6 190.4 L275.6 190.4 L276.8 193.0 L278.0 190.4 L279.0 190.4 L279.0 192.1 L288.0 192.1 L288.0 193.8 L297.0 193.8 L297.0 195.5 L306.0 195.5 L306.0 197.2 L315.0 197.2 L315.0 198.9 L324.0 198.9 L324.0 200.6 L334.0 200.6 L334.0 202.3 L340.0 202.3 L340.0 204.0 L348.0 204.0 L348.0 202.3 L371.0 202.3 L372.2 204.9 L373.4 202.3 L373.4 202.3 L373.4 204.0 L376.4 204.0 L376.4 205.7 L379.4 205.7 L379.4 207.4 L383.4 207.4 L383.4 209.1 L390.4 209.1 L390.4 210.8 L398.4 210.8 L398.4 212.5 L404.4 212.5 L404.4 214.2 L411.4 214.2 L411.4 215.9 L428.4 215.9 L428.4 217.6 L430.4 217.6 L431.6 220.2 L432.8 217.6 L446.8 217.6 L446.8 219.3 L458.8 219.3 L460.0 221.9 L461.2 219.3 L464.2 219.3 L464.2 221.0 L482.2 221.0 L482.2 222.7 L491.2 222.7 L492.4 225.3 L493.6 222.7 L493.0 222.7" fill="none" stroke="#a7683c" stroke-width="1.15" stroke-linejoin="round"/><path d="M203.0 178.5 L206.0 178.5 L206.0 180.2 L212.0 180.2 L212.0 181.9 L218.0 181.9 L218.0 183.6 L224.0 183.6 L224.0 185.3 L230.0 185.3 L231.2 182.7 L232.4 185.3 L233.4 185.3 L233.4 187.0 L237.4 187.0 L237.4 188.7 L243.4 188.7 L243.4 190.4 L249.4 190.4 L249.4 192.1 L256.4 192.1 L256.4 193.8 L262.4 193.8 L262.4 195.5 L272.4 195.5 L272.4 197.2 L282.4 197.2 L282.4 198.9 L292.4 198.9 L293.6 201.5 L294.8 198.9 L294.8 198.9 L294.8 200.6 L301.8 200.6 L301.8 202.3 L311.8 202.3 L311.8 204.0 L321.8 204.0 L321.8 205.7 L330.8 205.7 L330.8 207.4 L344.8 207.4 L344.8 209.1 L345.8 209.1 L347.0 206.5 L348.2 209.1 L359.2 209.1 L359.2 210.8 L374.2 210.8 L374.2 212.5 L382.2 212.5 L383.4 209.9 L384.6 212.5 L388.6 212.5 L389.8 215.1 L391.0 212.5 L391.0 212.5 L391.0 214.2 L399.0 214.2 L400.2 216.8 L401.4 214.2 L403.4 214.2 L403.4 215.9 L404.4 215.9 L405.6 218.5 L406.8 215.9 L418.8 215.9 L418.8 217.6 L423.8 217.6 L425.0 215.0 L426.2 217.6 L432.2 217.6 L432.2 219.3 L437.2 219.3 L438.4 221.9 L439.6 219.3 L445.6 219.3 L445.6 221.0 L457.6 221.0 L458.8 218.4 L460.0 221.0 L461.0 221.0 L461.0 222.7 L473.0 222.7 L473.0 224.4 L487.0 224.4 L487.0 226.1 L493.0 226.1" fill="none" stroke="#22189a" stroke-width="1.15" stroke-linejoin="round"/><path d="M203.0 197.2 L204.0 197.2 L205.2 199.8 L206.4 197.2 L207.4 197.2 L207.4 198.9 L221.4 198.9 L221.4 200.6 L222.4 200.6 L223.6 198.0 L224.8 200.6 L235.8 200.6 L235.8 202.3 L240.8 202.3 L242.0 199.7 L243.2 202.3 L250.2 202.3 L250.2 204.0 L252.2 204.0 L253.4 206.6 L254.6 204.0 L264.6 204.0 L264.6 205.7 L278.6 205.7 L278.6 207.4 L293.6 207.4 L293.6 209.1 L299.6 209.1 L300.8 211.7 L302.0 209.1 L308.0 209.1 L308.0 210.8 L312.0 210.8 L313.2 213.4 L314.4 210.8 L317.4 210.8 L318.6 213.4 L319.8 210.8 L321.8 210.8 L323.0 208.2 L324.2 210.8 L325.2 210.8 L325.2 212.5 L337.2 212.5 L337.2 214.2 L351.2 214.2 L351.2 215.9 L361.2 215.9 L362.4 213.3 L363.6 215.9 L366.6 215.9 L366.6 217.6 L378.6 217.6 L379.8 220.2 L381.0 217.6 L382.0 217.6 L382.0 219.3 L388.0 219.3 L389.2 221.9 L390.4 219.3 L393.4 219.3 L394.6 221.9 L395.8 219.3 L396.8 219.3 L396.8 221.0 L410.8 221.0 L410.8 222.7 L426.8 222.7 L428.0 220.1 L429.2 222.7 L430.2 222.7 L430.2 224.4 L434.2 224.4 L435.4 227.0 L436.6 224.4 L440.6 224.4 L441.8 227.0 L443.0 224.4 L444.0 224.4 L445.2 227.0 L446.4 224.4 L450.4 224.4 L451.6 221.8 L452.8 224.4 L453.8 224.4 L453.8 226.1 L464.8 226.1 L466.0 228.7 L467.2 226.1 L475.2 226.1 L476.4 223.5 L477.6 226.1 L478.6 226.1 L478.6 227.8 L493.0 227.8" fill="none" stroke="#2a18a8" stroke-width="1.15" stroke-linejoin="round"/><path d="M203.0 200.6 L209.0 200.6 L210.2 203.2 L211.4 200.6 L212.4 200.6 L213.6 203.2 L214.8 200.6 L215.8 200.6 L215.8 202.3 L222.8 202.3 L224.0 199.7 L225.2 202.3 L226.2 202.3 L226.2 204.0 L228.2 204.0 L229.4 206.6 L230.6 204.0 L235.6 204.0 L236.8 206.6 L238.0 204.0 L239.0 204.0 L239.0 205.7 L244.0 205.7 L245.2 203.1 L246.4 205.7 L249.4 205.7 L250.6 203.1 L251.8 205.7 L252.8 205.7 L252.8 207.4 L263.8 207.4 L263.8 209.1 L266.8 209.1 L268.0 211.7 L269.2 209.1 L271.2 209.1 L272.4 206.5 L273.6 209.1 L281.6 209.1 L281.6 210.8 L283.6 210.8 L284.8 213.4 L286.0 210.8 L287.0 210.8 L288.2 208.2 L289.4 210.8 L298.4 210.8 L299.6 213.4 L300.8 210.8 L301.8 210.8 L301.8 212.5 L309.8 212.5 L311.0 215.1 L312.2 212.5 L317.2 212.5 L317.2 214.2 L322.2 214.2 L323.4 216.8 L324.6 214.2 L327.6 214.2 L328.8 216.8 L330.0 214.2 L333.0 214.2 L334.2 211.6 L335.4 214.2 L336.4 214.2 L336.4 215.9 L343.4 215.9 L344.6 218.5 L345.8 215.9 L350.8 215.9 L350.8 217.6 L357.8 217.6 L359.0 215.0 L360.2 217.6 L367.2 217.6 L367.2 219.3 L372.2 219.3 L373.4 221.9 L374.6 219.3 L379.6 219.3 L380.8 221.9 L382.0 219.3 L384.0 219.3 L384.0 221.0 L397.0 221.0 L398.2 218.4 L399.4 221.0 L400.4 221.0 L400.4 222.7 L401.4 222.7 L402.6 225.3 L403.8 222.7 L416.8 222.7 L416.8 224.4 L437.8 224.4 L439.0 227.0 L440.2 224.4 L441.2 224.4 L441.2 226.1 L442.2 226.1 L443.4 228.7 L444.6 226.1 L447.6 226.1 L448.8 223.5 L450.0 226.1 L460.0 226.1 L461.2 228.7 L462.4 226.1 L463.4 226.1 L463.4 227.8 L473.4 227.8 L474.6 230.4 L475.8 227.8 L482.8 227.8 L484.0 230.4 L485.2 227.8 L488.2 227.8 L488.2 229.5 L493.0 229.5" fill="none" stroke="#7a24d8" stroke-width="1.15" stroke-linejoin="round"/><path d="M203.0 204.0 L204.0 204.0 L205.2 206.6 L206.4 204.0 L207.4 204.0 L208.6 206.6 L209.8 204.0 L214.8 204.0 L214.8 205.7 L215.8 205.7 L217.0 203.1 L218.2 205.7 L230.2 205.7 L230.2 207.4 L245.2 207.4 L245.2 209.1 L248.2 209.1 L249.4 211.7 L250.6 209.1 L252.6 209.1 L253.8 211.7 L255.0 209.1 L261.0 209.1 L261.0 210.8 L265.0 210.8 L266.2 208.2 L267.4 210.8 L276.4 210.8 L277.6 213.4 L278.8 210.8 L281.8 210.8 L281.8 212.5 L283.8 212.5 L285.0 215.1 L286.2 212.5 L287.2 212.5 L288.4 215.1 L289.6 212.5 L301.6 212.5 L301.6 214.2 L322.6 214.2 L322.6 215.9 L330.6 215.9 L331.8 213.3 L333.0 215.9 L334.0 215.9 L335.2 218.5 L336.4 215.9 L338.4 215.9 L339.6 213.3 L340.8 215.9 L341.8 215.9 L341.8 217.6 L346.8 217.6 L348.0 220.2 L349.2 217.6 L355.2 217.6 L356.4 220.2 L357.6 217.6 L358.6 217.6 L359.8 215.0 L361.0 217.6 L361.0 217.6 L361.0 219.3 L370.0 219.3 L371.2 216.7 L372.4 219.3 L373.4 219.3 L373.4 221.0 L375.4 221.0 L376.6 223.6 L377.8 221.0 L389.8 221.0 L389.8 222.7 L406.8 222.7 L406.8 224.4 L421.8 224.4 L423.0 227.0 L424.2 224.4 L425.2 224.4 L425.2 226.1 L440.2 226.1 L441.4 228.7 L442.6 226.1 L448.6 226.1 L448.6 227.8 L454.6 227.8 L455.8 230.4 L457.0 227.8 L466.0 227.8 L467.2 230.4 L468.4 227.8 L473.4 227.8 L474.6 225.2 L475.8 227.8 L475.8 227.8 L475.8 229.5 L480.8 229.5 L482.0 232.1 L483.2 229.5 L493.0 229.5" fill="none" stroke="#1e1494" stroke-width="1.15" stroke-linejoin="round"/><path d="M203.0 207.4 L215.0 207.4 L215.0 209.1 L216.0 209.1 L217.2 211.7 L218.4 209.1 L222.4 209.1 L223.6 211.7 L224.8 209.1 L227.8 209.1 L229.0 211.7 L230.2 209.1 L236.2 209.1 L236.2 210.8 L257.2 210.8 L257.2 212.5 L266.2 212.5 L267.4 215.1 L268.6 212.5 L272.6 212.5 L273.8 209.9 L275.0 212.5 L278.0 212.5 L278.0 214.2 L280.0 214.2 L281.2 216.8 L282.4 214.2 L298.4 214.2 L299.6 216.8 L300.8 214.2 L300.8 214.2 L300.8 215.9 L301.8 215.9 L303.0 218.5 L304.2 215.9 L307.2 215.9 L308.4 218.5 L309.6 215.9 L315.6 215.9 L316.8 213.3 L318.0 215.9 L319.0 215.9 L319.0 217.6 L339.0 217.6 L339.0 219.3 L357.0 219.3 L358.2 216.7 L359.4 219.3 L359.4 219.3 L359.4 221.0 L368.4 221.0 L369.6 223.6 L370.8 221.0 L372.8 221.0 L374.0 223.6 L375.2 221.0 L376.2 221.0 L376.2 222.7 L379.2 222.7 L380.4 225.3 L381.6 222.7 L386.6 222.7 L387.8 225.3 L389.0 222.7 L394.0 222.7 L394.0 224.4 L413.0 224.4 L413.0 226.1 L414.0 226.1 L415.2 228.7 L416.4 226.1 L425.4 226.1 L426.6 223.5 L427.8 226.1 L440.8 226.1 L440.8 227.8 L457.8 227.8 L459.0 230.4 L460.2 227.8 L463.2 227.8 L464.4 225.2 L465.6 227.8 L470.6 227.8 L471.8 225.2 L473.0 227.8 L476.0 227.8 L477.2 230.4 L478.4 227.8 L478.4 227.8 L478.4 229.5 L485.4 229.5 L486.6 232.1 L487.8 229.5 L493.0 229.5" fill="none" stroke="#9a34e4" stroke-width="1.15" stroke-linejoin="round"/><path d="M203.0 212.5 L208.0 212.5 L209.2 209.9 L210.4 212.5 L211.4 212.5 L211.4 214.2 L214.4 214.2 L215.6 216.8 L216.8 214.2 L223.8 214.2 L223.8 215.9 L226.8 215.9 L228.0 213.3 L229.2 215.9 L236.2 215.9 L236.2 217.6 L249.2 217.6 L249.2 219.3 L264.2 219.3 L264.2 221.0 L274.2 221.0 L275.4 223.6 L276.6 221.0 L280.6 221.0 L281.8 223.6 L283.0 221.0 L286.0 221.0 L287.2 223.6 L288.4 221.0 L292.4 221.0 L293.6 218.4 L294.8 221.0 L295.8 221.0 L295.8 222.7 L303.8 222.7 L305.0 220.1 L306.2 222.7 L311.2 222.7 L312.4 225.3 L313.6 222.7 L325.6 222.7 L325.6 224.4 L360.6 224.4 L360.6 226.1 L384.6 226.1 L385.8 228.7 L387.0 226.1 L391.0 226.1 L392.2 223.5 L393.4 226.1 L397.4 226.1 L397.4 227.8 L419.4 227.8 L420.6 230.4 L421.8 227.8 L427.8 227.8 L429.0 230.4 L430.2 227.8 L436.2 227.8 L436.2 229.5 L437.2 229.5 L438.4 232.1 L439.6 229.5 L467.6 229.5 L468.8 226.9 L470.0 229.5 L477.0 229.5 L477.0 231.2 L493.0 231.2" fill="none" stroke="#1c1290" stroke-width="1.15" stroke-linejoin="round"/><path d="M203.0 215.9 L211.0 215.9 L212.2 218.5 L213.4 215.9 L219.4 215.9 L220.6 218.5 L221.8 215.9 L221.8 215.9 L221.8 217.6 L231.8 217.6 L233.0 220.2 L234.2 217.6 L241.2 217.6 L241.2 219.3 L251.2 219.3 L252.4 216.7 L253.6 219.3 L274.6 219.3 L275.8 221.9 L277.0 219.3 L303.0 219.3 L304.2 221.9 L305.4 219.3 L322.4 219.3 L322.4 217.6 L330.4 217.6 L330.4 215.9 L342.4 215.9 L342.4 214.2 L346.4 214.2 L346.4 212.5 L348.4 212.5 L348.4 210.8 L350.4 210.8 L350.4 209.1 L351.4 209.1 L351.4 207.4 L353.4 207.4 L353.4 205.7 L354.4 205.7 L354.4 204.0 L355.4 204.0 L355.4 202.3 L357.4 202.3 L357.4 200.6 L358.4 200.6 L358.4 198.9 L360.4 198.9 L360.4 197.2 L361.4 197.2 L361.4 195.5 L365.4 195.5 L365.4 193.8 L366.4 193.8 L366.4 195.5 L369.4 195.5 L369.4 197.2 L371.4 197.2 L371.4 198.9 L372.4 198.9 L372.4 200.6 L374.4 200.6 L374.4 202.3 L375.4 202.3 L376.6 204.9 L377.8 202.3 L377.8 202.3 L377.8 204.0 L378.8 204.0 L378.8 209.1 L379.8 209.1 L379.8 210.8 L380.8 210.8 L380.8 212.5 L381.8 212.5 L381.8 214.2 L382.8 214.2 L382.8 215.9 L384.8 215.9 L384.8 217.6 L385.8 217.6 L385.8 219.3 L387.8 219.3 L387.8 221.0 L390.8 221.0 L390.8 222.7 L394.8 222.7 L394.8 224.4 L401.8 224.4 L401.8 226.1 L412.8 226.1 L412.8 227.8 L433.8 227.8 L433.8 229.5 L439.8 229.5 L441.0 232.1 L442.2 229.5 L451.2 229.5 L452.4 232.1 L453.6 229.5 L461.6 229.5 L462.8 232.1 L464.0 229.5 L469.0 229.5 L469.0 231.2 L477.0 231.2 L478.2 233.8 L479.4 231.2 L488.4 231.2 L489.6 233.8 L490.8 231.2 L493.0 231.2" fill="none" stroke="#111111" stroke-width="1.15" stroke-linejoin="round"/><path d="M203.0 219.3 L234.0 219.3 L235.2 216.7 L236.4 219.3 L248.4 219.3 L249.6 221.9 L250.8 219.3 L271.8 219.3 L271.8 221.0 L294.8 221.0 L296.0 218.4 L297.2 221.0 L315.2 221.0 L316.4 223.6 L317.6 221.0 L333.6 221.0 L334.8 223.6 L336.0 221.0 L340.0 221.0 L340.0 219.3 L343.0 219.3 L343.0 217.6 L345.0 217.6 L345.0 215.9 L346.0 215.9 L346.0 214.2 L348.0 214.2 L348.0 212.5 L349.0 212.5 L349.0 210.8 L351.0 210.8 L351.0 209.1 L353.0 209.1 L353.0 207.4 L364.0 207.4 L365.2 210.0 L366.4 207.4 L368.4 207.4 L369.6 204.8 L370.8 207.4 L373.8 207.4 L373.8 209.1 L376.8 209.1 L376.8 210.8 L378.8 210.8 L380.0 213.4 L381.2 210.8 L381.2 210.8 L381.2 212.5 L382.2 212.5 L382.2 217.6 L384.2 217.6 L384.2 219.3 L386.2 219.3 L386.2 221.0 L388.2 221.0 L388.2 222.7 L395.2 222.7 L396.4 225.3 L397.6 222.7 L404.6 222.7 L405.8 220.1 L407.0 222.7 L408.0 222.7 L408.0 224.4 L411.0 224.4 L412.2 227.0 L413.4 224.4 L421.4 224.4 L422.6 227.0 L423.8 224.4 L448.8 224.4 L450.0 221.8 L451.2 224.4 L466.2 224.4 L466.2 226.1 L478.2 226.1 L479.4 228.7 L480.6 226.1 L493.0 226.1" fill="none" stroke="#c07a40" stroke-width="1.15" stroke-linejoin="round"/><path d="M203.0 222.7 L235.0 222.7 L235.0 224.4 L243.0 224.4 L244.2 221.8 L245.4 224.4 L257.4 224.4 L258.6 221.8 L259.8 224.4 L283.8 224.4 L285.0 227.0 L286.2 224.4 L293.2 224.4 L294.4 221.8 L295.6 224.4 L306.6 224.4 L306.6 226.1 L308.6 226.1 L309.8 228.7 L311.0 226.1 L319.0 226.1 L320.2 223.5 L321.4 226.1 L323.4 226.1 L324.6 228.7 L325.8 226.1 L340.8 226.1 L342.0 228.7 L343.2 226.1 L347.2 226.1 L348.4 228.7 L349.6 226.1 L354.6 226.1 L355.8 228.7 L357.0 226.1 L375.0 226.1 L376.2 228.7 L377.4 226.1 L377.4 226.1 L377.4 227.8 L407.4 227.8 L408.6 225.2 L409.8 227.8 L440.8 227.8 L442.0 230.4 L443.2 227.8 L453.2 227.8 L454.4 230.4 L455.6 227.8 L461.6 227.8 L462.8 230.4 L464.0 227.8 L468.0 227.8 L468.0 229.5 L493.0 229.5" fill="none" stroke="#c63ee0" stroke-width="1.15" stroke-linejoin="round"/><path d="M203.0 226.1 L221.0 226.1 L222.2 228.7 L223.4 226.1 L258.4 226.1 L259.6 228.7 L260.8 226.1 L264.8 226.1 L266.0 228.7 L267.2 226.1 L281.2 226.1 L282.4 223.5 L283.6 226.1 L293.6 226.1 L293.6 227.8 L362.6 227.8 L363.8 230.4 L365.0 227.8 L368.0 227.8 L369.2 230.4 L370.4 227.8 L378.4 227.8 L379.6 230.4 L380.8 227.8 L385.8 227.8 L387.0 225.2 L388.2 227.8 L400.2 227.8 L400.2 229.5 L457.2 229.5 L458.4 226.9 L459.6 229.5 L493.0 229.5" fill="none" stroke="#e0403a" stroke-width="1.15" stroke-linejoin="round"/><path d="M203.0 227.8 L207.0 227.8 L208.2 225.2 L209.4 227.8 L221.4 227.8 L222.6 230.4 L223.8 227.8 L225.8 227.8 L227.0 225.2 L228.2 227.8 L261.2 227.8 L262.4 225.2 L263.6 227.8 L283.6 227.8 L283.6 229.5 L318.6 229.5 L319.8 232.1 L321.0 229.5 L325.0 229.5 L326.2 226.9 L327.4 229.5 L348.4 229.5 L349.6 232.1 L350.8 229.5 L392.8 229.5 L394.0 232.1 L395.2 229.5 L412.2 229.5 L413.4 232.1 L414.6 229.5 L416.6 229.5 L417.8 232.1 L419.0 229.5 L425.0 229.5 L426.2 232.1 L427.4 229.5 L446.4 229.5 L446.4 231.2 L457.4 231.2 L458.6 228.6 L459.8 231.2 L470.8 231.2 L472.0 233.8 L473.2 231.2 L493.0 231.2" fill="none" stroke="#e8407a" stroke-width="1.15" stroke-linejoin="round"/><path d="M203.0 231.2 L261.0 231.2 L262.2 233.8 L263.4 231.2 L279.4 231.2 L279.4 229.5 L327.4 229.5 L328.6 232.1 L329.8 229.5 L355.8 229.5 L357.0 232.1 L358.2 229.5 L374.2 229.5 L375.4 232.1 L376.6 229.5 L381.6 229.5 L382.8 232.1 L384.0 229.5 L387.0 229.5 L387.0 231.2 L393.0 231.2 L394.2 228.6 L395.4 231.2 L401.4 231.2 L402.6 228.6 L403.8 231.2 L438.8 231.2 L440.0 228.6 L441.2 231.2 L448.2 231.2 L449.4 228.6 L450.6 231.2 L457.6 231.2 L458.8 228.6 L460.0 231.2 L471.0 231.2 L471.0 232.9 L493.0 232.9" fill="none" stroke="#a86a3c" stroke-width="1.15" stroke-linejoin="round"/><path d="M203.0 172.5 L204.0 172.5 L205.0 172.5 L206.0 172.5 L206.0 174.0 L207.0 174.0 L208.0 174.0 L209.0 174.0 L210.0 174.0 L211.0 174.0 L211.0 175.5 L212.0 175.5 L213.0 175.5 L214.0 175.5 L215.0 175.5 L216.0 175.5 L216.0 177.0 L217.0 177.0 L218.0 177.0 L219.0 177.0 L220.0 177.0 L220.0 178.5 L221.0 178.5 L222.0 178.5 L223.0 178.5 L224.0 178.5 L225.0 178.5 L225.0 180.0 L226.0 180.0 L227.0 180.0 L228.0 180.0 L229.0 180.0 L230.0 180.0 L230.0 181.5 L231.0 181.5 L232.0 181.5 L233.0 181.5 L234.0 181.5 L235.0 181.5 L236.0 181.5 L236.0 183.0 L237.0 183.0 L238.0 183.0 L239.0 183.0 L240.0 183.0 L241.0 183.0 L242.0 183.0 L243.0 183.0 L243.0 184.5 L244.0 184.5 L245.0 184.5 L246.0 184.5 L247.0 184.5 L248.0 184.5 L249.0 184.5 L249.0 186.0 L250.0 186.0 L251.0 186.0 L252.0 186.0 L253.0 186.0 L254.0 186.0 L255.0 186.0 L256.0 186.0 L256.0 187.5 L257.0 187.5 L258.0 187.5 L259.0 187.5 L260.0 187.5 L261.0 187.5 L262.0 187.5 L263.0 187.5 L263.0 189.0 L264.0 189.0 L265.0 189.0 L266.0 189.0 L267.0 189.0 L268.0 189.0 L269.0 189.0 L269.0 190.5 L270.0 190.5 L271.0 190.5 L272.0 190.5 L273.0 190.5 L274.0 190.5 L275.0 190.5 L276.0 190.5 L276.0 192.0 L277.0 192.0 L278.0 192.0 L279.0 192.0 L280.0 192.0 L281.0 192.0 L282.0 192.0 L283.0 192.0 L283.0 193.5 L284.0 193.5 L285.0 193.5 L286.0 193.5 L287.0 193.5 L288.0 193.5 L289.0 193.5 L289.0 195.0 L290.0 195.0 L291.0 195.0 L292.0 195.0 L293.0 195.0 L294.0 195.0 L295.0 195.0 L296.0 195.0 L297.0 195.0 L297.0 196.5 L298.0 196.5 L299.0 196.5 L300.0 196.5 L301.0 196.5 L302.0 196.5 L303.0 196.5 L304.0 196.5 L304.0 198.0 L305.0 198.0 L306.0 198.0 L307.0 198.0 L308.0 198.0 L309.0 198.0 L310.0 198.0 L311.0 198.0 L312.0 198.0 L312.0 199.5 L313.0 199.5 L314.0 199.5 L315.0 199.5 L316.0 199.5 L317.0 199.5 L318.0 199.5 L319.0 199.5 L319.0 198.0 L320.0 198.0 L321.0 198.0 L322.0 198.0 L323.0 198.0 L324.1 198.0 L324.1 196.5 L325.1 196.5 L326.1 196.5 L327.2 196.5 L328.2 196.5 L328.2 195.0 L329.3 195.0 L329.3 193.5 L330.4 193.5 L330.4 192.0 L331.5 192.0 L331.5 190.5 L332.6 190.5 L332.6 189.0 L333.7 189.0 L333.7 187.5 L334.8 187.5 L334.8 186.0 L335.9 186.0 L335.9 184.5 L337.0 184.5 L337.0 183.0 L338.1 183.0 L338.1 180.0 L339.2 180.0 L339.2 178.5 L340.4 178.5 L340.4 175.5 L341.5 175.5 L341.5 174.0 L342.6 174.0 L342.6 171.0 L343.7 171.0 L343.7 169.5 L344.8 169.5 L344.8 166.5 L345.9 166.5 L345.9 163.5 L347.0 163.5 L347.0 162.0 L348.1 162.0 L348.1 159.0 L349.2 159.0 L349.2 156.0 L350.3 156.0 L350.3 153.0 L351.4 153.0 L351.4 151.5 L352.5 151.5 L352.5 150.0 L353.6 150.0 L353.6 148.5 L354.7 148.5 L354.7 147.0 L355.8 147.0 L355.8 145.5 L356.9 145.5 L356.9 142.5 L358.0 142.5 L358.0 141.0 L359.1 141.0 L359.1 139.5 L360.2 139.5 L360.2 136.5 L361.5 136.5 L362.7 136.5 L362.7 135.0 L364.0 135.0 L365.0 135.0 L366.0 135.0 L366.0 136.5 L367.0 136.5 L368.0 136.5 L369.1 136.5 L369.1 139.5 L370.2 139.5 L370.2 141.0 L371.3 141.0 L371.3 142.5 L372.4 142.5 L372.4 145.5 L373.5 145.5 L373.5 147.0 L374.6 147.0 L374.6 150.0 L375.8 150.0 L375.8 153.0 L376.9 153.0 L376.9 156.0 L378.0 156.0 L378.0 157.5 L379.0 157.5 L379.0 160.5 L380.0 160.5 L380.0 163.5 L381.0 163.5 L381.0 166.5 L382.0 166.5 L382.0 168.0 L383.0 168.0 L383.0 171.0 L384.1 171.0 L384.1 174.0 L385.2 174.0 L385.2 178.5 L386.4 178.5 L386.4 181.5 L387.5 181.5 L387.5 184.5 L388.5 184.5 L388.5 187.5 L389.5 187.5 L389.5 190.5 L390.5 190.5 L390.5 195.0 L391.5 195.0 L391.5 198.0 L392.5 198.0 L392.5 201.0 L393.5 201.0 L393.5 204.0 L394.5 204.0 L394.5 205.5 L395.5 205.5 L395.5 208.5 L396.6 208.5 L396.6 210.0 L397.7 210.0 L398.8 210.0 L398.8 211.5 L399.9 211.5 L401.0 211.5 L401.0 213.0 L402.0 213.0 L403.0 213.0 L404.0 213.0 L405.0 213.0 L406.0 213.0 L406.0 214.5 L407.0 214.5 L408.0 214.5 L409.0 214.5 L410.0 214.5 L411.0 214.5 L412.0 214.5 L413.0 214.5 L414.0 214.5 L415.0 214.5 L416.0 214.5 L416.0 216.0 L417.0 216.0 L418.0 216.0 L419.0 216.0 L420.0 216.0 L421.0 216.0 L422.0 216.0 L423.0 216.0 L424.0 216.0 L425.0 216.0 L426.0 216.0 L427.0 216.0 L428.0 216.0 L428.0 217.5 L429.0 217.5 L430.0 217.5 L431.0 217.5 L432.0 217.5 L433.0 217.5 L434.0 217.5 L435.0 217.5 L436.0 217.5 L437.0 217.5 L438.0 217.5 L439.0 217.5 L440.0 217.5 L441.0 217.5 L442.0 217.5 L443.0 217.5 L443.0 219.0 L444.0 219.0 L445.0 219.0 L446.0 219.0 L447.0 219.0 L448.0 219.0 L449.0 219.0 L450.0 219.0 L451.0 219.0 L452.0 219.0 L453.0 219.0 L454.1 219.0 L455.1 219.0 L456.1 219.0 L457.1 219.0 L458.1 219.0 L459.1 219.0 L459.1 220.5 L460.1 220.5 L461.2 220.5 L462.2 220.5 L463.2 220.5 L464.2 220.5 L465.2 220.5 L466.2 220.5 L467.2 220.5 L468.3 220.5 L469.3 220.5 L470.3 220.5 L471.3 220.5 L472.3 220.5 L473.3 220.5 L474.3 220.5 L475.4 220.5 L475.4 222.0 L476.4 222.0 L477.4 222.0 L478.4 222.0 L479.4 222.0 L480.4 222.0 L481.4 222.0 L482.5 222.0 L483.5 222.0 L484.5 222.0 L485.5 222.0 L486.5 222.0 L487.5 222.0 L488.5 222.0 L489.6 222.0 L490.6 222.0 L491.6 222.0 L491.6 223.5 L492.6 223.5 L492.6 222.9" fill="none" stroke="#b4653d" stroke-width="1.15" stroke-linejoin="round"/></g>
<path d="M56 11 H535.5 V362 M535.5 355 H63.5 M63.5 11 V362" fill="none" stroke="#000" stroke-width="2.6"/>
<path d="M56 339.0 H63.5 M59 306.2 H63.5 M56 273.4 H63.5 M59 240.6 H63.5 M56 207.8 H63.5 M59 175.0 H63.5 M56 142.2 H63.5 M59 109.4 H63.5 M56 76.6 H63.5 M59 43.8 H63.5 M56 11.0 H63.5 M63.5 355 V362 M87.1 355 V359.5 M110.7 355 V362 M134.3 355 V359.5 M157.9 355 V362 M181.4 355 V359.5 M205.0 355 V362 M228.6 355 V359.5 M252.2 355 V362 M275.8 355 V359.5 M299.4 355 V362 M323.0 355 V359.5 M346.6 355 V362 M370.2 355 V359.5 M393.8 355 V362 M417.4 355 V359.5 M440.9 355 V362 M464.5 355 V359.5 M488.1 355 V362 M511.7 355 V359.5 M535.3 355 V362" stroke="#000" stroke-width="2.4" fill="none"/>
<text transform="translate(51.7,344.2) scale(0.99,1)" text-anchor="end" style="font-family:'Liberation Sans',sans-serif;font-weight:bold;font-size:17px">0.0</text>
<text transform="translate(51.7,278.6) scale(0.99,1)" text-anchor="end" style="font-family:'Liberation Sans',sans-serif;font-weight:bold;font-size:17px">0.2</text>
<text transform="translate(51.7,213.0) scale(0.99,1)" text-anchor="end" style="font-family:'Liberation Sans',sans-serif;font-weight:bold;font-size:17px">0.4</text>
<text transform="translate(51.7,147.4) scale(0.99,1)" text-anchor="end" style="font-family:'Liberation Sans',sans-serif;font-weight:bold;font-size:17px">0.6</text>
<text transform="translate(51.7,81.8) scale(0.99,1)" text-anchor="end" style="font-family:'Liberation Sans',sans-serif;font-weight:bold;font-size:17px">0.8</text>
<text transform="translate(51.7,16.2) scale(0.99,1)" text-anchor="end" style="font-family:'Liberation Sans',sans-serif;font-weight:bold;font-size:17px">1.0</text>
<text transform="translate(63.5,380.3) scale(0.97,1)" text-anchor="middle" style="font-family:'Liberation Sans',sans-serif;font-weight:bold;font-size:17px">200</text>
<text transform="translate(110.7,380.3) scale(0.97,1)" text-anchor="middle" style="font-family:'Liberation Sans',sans-serif;font-weight:bold;font-size:17px">250</text>
<text transform="translate(157.9,380.3) scale(0.97,1)" text-anchor="middle" style="font-family:'Liberation Sans',sans-serif;font-weight:bold;font-size:17px">300</text>
<text transform="translate(205.0,380.3) scale(0.97,1)" text-anchor="middle" style="font-family:'Liberation Sans',sans-serif;font-weight:bold;font-size:17px">350</text>
<text transform="translate(252.2,380.3) scale(0.97,1)" text-anchor="middle" style="font-family:'Liberation Sans',sans-serif;font-weight:bold;font-size:17px">400</text>
<text transform="translate(299.4,380.3) scale(0.97,1)" text-anchor="middle" style="font-family:'Liberation Sans',sans-serif;font-weight:bold;font-size:17px">450</text>
<text transform="translate(346.6,380.3) scale(0.97,1)" text-anchor="middle" style="font-family:'Liberation Sans',sans-serif;font-weight:bold;font-size:17px">500</text>
<text transform="translate(393.8,380.3) scale(0.97,1)" text-anchor="middle" style="font-family:'Liberation Sans',sans-serif;font-weight:bold;font-size:17px">550</text>
<text transform="translate(440.9,380.3) scale(0.97,1)" text-anchor="middle" style="font-family:'Liberation Sans',sans-serif;font-weight:bold;font-size:17px">600</text>
<text transform="translate(488.1,380.3) scale(0.97,1)" text-anchor="middle" style="font-family:'Liberation Sans',sans-serif;font-weight:bold;font-size:17px">650</text>
<text transform="translate(535.3,380.3) scale(0.97,1)" text-anchor="middle" style="font-family:'Liberation Sans',sans-serif;font-weight:bold;font-size:17px">700</text>
<text x="240" y="402" style="font-family:'Liberation Sans',sans-serif;font-weight:bold;font-size:18px" textLength="133" lengthAdjust="spacingAndGlyphs">Wavelength/nm</text>
<text transform="translate(17.5,238.5) rotate(-90)" style="font-family:'Liberation Sans',sans-serif;font-weight:bold;font-size:18px" textLength="107" lengthAdjust="spacingAndGlyphs">Absorbance</text>
<path d="M198 42.7 H492.6 V248 M492.6 243.8 H203 M203 42.7 V247.5" fill="none" stroke="#000" stroke-width="1.6"/>
<path d="M198 228.5 H203 M200.5 213.0 H203 M198 197.5 H203 M200.5 182.0 H203 M198 166.5 H203 M200.5 151.0 H203 M198 135.5 H203 M200.5 120.0 H203 M198 104.5 H203 M200.5 89.0 H203 M198 73.5 H203 M200.5 58.0 H203 M198 42.5 H203 M203.0 243.8 V247.5 M239.2 243.8 V246.3 M275.4 243.8 V247.5 M311.6 243.8 V246.3 M347.8 243.8 V247.5 M384.0 243.8 V246.3 M420.2 243.8 V247.5 M456.4 243.8 V246.3 M492.6 243.8 V247.5" stroke="#000" stroke-width="1.5" fill="none"/>
<text transform="translate(194.9,232.3) scale(1.06,1)" text-anchor="end" style="font-family:'Liberation Sans',sans-serif;font-weight:bold;font-size:10.6px;stroke:#000;stroke-width:0.3px">0.00</text>
<text transform="translate(194.9,201.3) scale(1.06,1)" text-anchor="end" style="font-family:'Liberation Sans',sans-serif;font-weight:bold;font-size:10.6px;stroke:#000;stroke-width:0.3px">0.01</text>
<text transform="translate(194.9,170.3) scale(1.06,1)" text-anchor="end" style="font-family:'Liberation Sans',sans-serif;font-weight:bold;font-size:10.6px;stroke:#000;stroke-width:0.3px">0.02</text>
<text transform="translate(194.9,139.3) scale(1.06,1)" text-anchor="end" style="font-family:'Liberation Sans',sans-serif;font-weight:bold;font-size:10.6px;stroke:#000;stroke-width:0.3px">0.03</text>
<text transform="translate(194.9,108.3) scale(1.06,1)" text-anchor="end" style="font-family:'Liberation Sans',sans-serif;font-weight:bold;font-size:10.6px;stroke:#000;stroke-width:0.3px">0.04</text>
<text transform="translate(194.9,77.3) scale(1.06,1)" text-anchor="end" style="font-family:'Liberation Sans',sans-serif;font-weight:bold;font-size:10.6px;stroke:#000;stroke-width:0.3px">0.05</text>
<text transform="translate(194.9,46.3) scale(1.06,1)" text-anchor="end" style="font-family:'Liberation Sans',sans-serif;font-weight:bold;font-size:10.6px;stroke:#000;stroke-width:0.3px">0.06</text>
<text x="203.0" y="258.8" text-anchor="middle" style="font-family:'Liberation Sans',sans-serif;font-weight:bold;font-size:10.6px;stroke:#000;stroke-width:0.3px">450</text>
<text x="275.4" y="258.8" text-anchor="middle" style="font-family:'Liberation Sans',sans-serif;font-weight:bold;font-size:10.6px;stroke:#000;stroke-width:0.3px">500</text>
<text x="347.8" y="258.8" text-anchor="middle" style="font-family:'Liberation Sans',sans-serif;font-weight:bold;font-size:10.6px;stroke:#000;stroke-width:0.3px">550</text>
<text x="420.2" y="258.8" text-anchor="middle" style="font-family:'Liberation Sans',sans-serif;font-weight:bold;font-size:10.6px;stroke:#000;stroke-width:0.3px">600</text>
<text x="492.6" y="258.8" text-anchor="middle" style="font-family:'Liberation Sans',sans-serif;font-weight:bold;font-size:10.6px;stroke:#000;stroke-width:0.3px">650</text>
<text x="304" y="277.8" style="font-family:'Liberation Sans',sans-serif;font-weight:bold;font-size:11.2px" textLength="87.4" lengthAdjust="spacingAndGlyphs">Wavelength/nm</text>
<text transform="translate(161.2,174.4) rotate(-90)" style="font-family:'Liberation Sans',sans-serif;font-weight:bold;font-size:11.4px" textLength="67.3" lengthAdjust="spacingAndGlyphs">Absorbance</text>
<text transform="translate(210.3,114.8) scale(1.145,1)" style="font-family:'Liberation Sans',sans-serif;font-weight:bold;font-size:9.25px;stroke:#000;stroke-width:0.12px"><tspan>Free RBAP, Na</tspan><tspan dy="-5.0" style="font-size:6.8px">+</tspan><tspan dy="5.0">, Li</tspan><tspan dy="-5.0" style="font-size:6.8px">+</tspan><tspan dy="5.0">, Ag</tspan><tspan dy="-5.0" style="font-size:6.8px">+</tspan><tspan dy="5.0">, K</tspan><tspan dy="-5.0" style="font-size:6.8px">+</tspan><tspan dy="5.0">,</tspan></text>
<text transform="translate(210.3,130.8) scale(1.15,1)" style="font-family:'Liberation Sans',sans-serif;font-weight:bold;font-size:9.25px;stroke:#000;stroke-width:0.12px"><tspan>Hg</tspan><tspan dy="-5.0" style="font-size:6.8px">2+</tspan><tspan dy="5.0">, Ca</tspan><tspan dy="-5.0" style="font-size:6.8px">2+</tspan><tspan dy="5.0">, Ba</tspan><tspan dy="-5.0" style="font-size:6.8px">2+</tspan><tspan dy="5.0">, Co</tspan><tspan dy="-5.0" style="font-size:6.8px">2+</tspan><tspan dy="5.0">, Zn</tspan><tspan dy="-5.0" style="font-size:6.8px">2+</tspan><tspan dy="5.0">,</tspan></text>
<text transform="translate(213.1,146.8) scale(1.135,1)" style="font-family:'Liberation Sans',sans-serif;font-weight:bold;font-size:9.25px;stroke:#000;stroke-width:0.12px"><tspan>Cd</tspan><tspan dy="-5.0" style="font-size:6.8px">2+</tspan><tspan dy="5.0">, Fe</tspan><tspan dy="-5.0" style="font-size:6.8px">2+</tspan><tspan dy="5.0">, Cu</tspan><tspan dy="-5.0" style="font-size:6.8px">2+</tspan><tspan dy="5.0">,Mg</tspan><tspan dy="-5.0" style="font-size:6.8px">2+</tspan><tspan dy="5.0">,Mn</tspan><tspan dy="-5.0" style="font-size:6.8px">2+</tspan><tspan dy="5.0">,</tspan></text>
<text transform="translate(210.3,162.4) scale(1.155,1)" style="font-family:'Liberation Sans',sans-serif;font-weight:bold;font-size:9.25px;stroke:#000;stroke-width:0.12px"><tspan>Pb</tspan><tspan dy="-5.0" style="font-size:6.8px">2+</tspan><tspan dy="5.0">, Al</tspan><tspan dy="-5.0" style="font-size:6.8px">3+</tspan><tspan dy="5.0">, Fe</tspan><tspan dy="-5.0" style="font-size:6.8px">3+</tspan></text>
<text x="359" y="105.7" style="font-family:'Liberation Sans',sans-serif;font-weight:bold;font-size:12px">Sn<tspan dx="0.8" dy="-5.3" style="font-size:9px">2+</tspan></text>
<text x="390" y="168" style="font-family:'Liberation Sans',sans-serif;font-weight:bold;font-size:12px">Cr<tspan dx="0.8" dy="-5.3" style="font-size:9px">3+</tspan></text>
<text x="422" y="187.6" style="font-family:'Liberation Sans',sans-serif;font-weight:bold;font-size:12px">Sn<tspan dx="0.8" dy="-5.3" style="font-size:9px">4+</tspan></text>
<path d="M365.0 135.0 L365.0 114.2" stroke="#000" stroke-width="0.85"/><path d="M365.0 108.7 L367.2 114.2 L362.8 114.2 Z" fill="#000"/>
<path d="M366.0 196.0 L389.8 175.6" stroke="#000" stroke-width="0.85"/><path d="M394.0 172.0 L391.3 177.2 L388.4 173.9 Z" fill="#000"/>
<path d="M380.0 205.0 L414.0 190.2" stroke="#000" stroke-width="0.85"/><path d="M419.0 188.0 L414.8 192.2 L413.1 188.2 Z" fill="#000"/>
<path d="M253.8 232.5 L253.8 173.6" stroke="#000" stroke-width="0.85"/><path d="M253.8 168.6 L255.7 173.6 L251.9 173.6 Z" fill="#000"/>
</svg>
</body></html>
